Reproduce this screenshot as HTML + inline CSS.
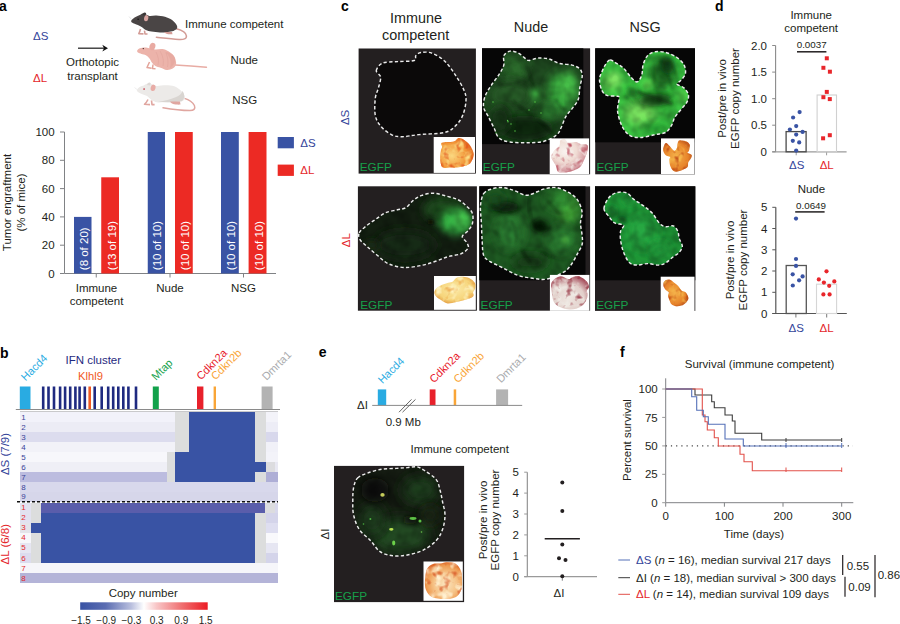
<!DOCTYPE html>
<html><head><meta charset="utf-8"><style>
html,body{margin:0;padding:0;background:#fff;}
svg{display:block;font-family:"Liberation Sans", sans-serif;}
</style></head><body>
<svg width="900" height="624" viewBox="0 0 900 624">
<rect width="900" height="624" fill="#fff"/>
<text x="-1" y="10.5" font-size="14" fill="#000" text-anchor="start" font-weight="bold" >a</text>
<text x="33" y="40" font-size="11.5" fill="#33449a" text-anchor="start" font-weight="normal" >ΔS</text>
<text x="33" y="82" font-size="11.5" fill="#e4262b" text-anchor="start" font-weight="normal" >ΔL</text>
<line x1="78" y1="48.2" x2="105" y2="48.2" stroke="#2a2a2a" stroke-width="1.3"/>
<path d="M102.3,44.8 L108,48.2 L102.3,51.5 L104,48.2 Z" fill="#111"/>
<text x="92.5" y="66.3" font-size="11.5" fill="#231f20" text-anchor="middle" font-weight="normal" >Orthotopic</text>
<text x="92.5" y="79.5" font-size="11.5" fill="#231f20" text-anchor="middle" font-weight="normal" >transplant</text>
<text x="185" y="28" font-size="11.5" fill="#231f20" text-anchor="start" font-weight="normal" >Immune competent</text>
<text x="230.5" y="63.5" font-size="11.5" fill="#231f20" text-anchor="start" font-weight="normal" >Nude</text>
<text x="232.3" y="104" font-size="11.5" fill="#231f20" text-anchor="start" font-weight="normal" >NSG</text>
<line x1="64.5" y1="132.0" x2="64.5" y2="273.5" stroke="#808285" stroke-width="1"/>
<line x1="64.5" y1="273.5" x2="276" y2="273.5" stroke="#808285" stroke-width="1"/>
<line x1="60" y1="273.5" x2="64.5" y2="273.5" stroke="#808285" stroke-width="1"/>
<text x="54.6" y="277.6" font-size="11.5" fill="#231f20" text-anchor="end" font-weight="normal" >0</text>
<line x1="60" y1="245.2" x2="64.5" y2="245.2" stroke="#808285" stroke-width="1"/>
<text x="54.6" y="249.29999999999998" font-size="11.5" fill="#231f20" text-anchor="end" font-weight="normal" >20</text>
<line x1="60" y1="216.9" x2="64.5" y2="216.9" stroke="#808285" stroke-width="1"/>
<text x="54.6" y="221.0" font-size="11.5" fill="#231f20" text-anchor="end" font-weight="normal" >40</text>
<line x1="60" y1="188.6" x2="64.5" y2="188.6" stroke="#808285" stroke-width="1"/>
<text x="54.6" y="192.7" font-size="11.5" fill="#231f20" text-anchor="end" font-weight="normal" >60</text>
<line x1="60" y1="160.3" x2="64.5" y2="160.3" stroke="#808285" stroke-width="1"/>
<text x="54.6" y="164.4" font-size="11.5" fill="#231f20" text-anchor="end" font-weight="normal" >80</text>
<line x1="60" y1="132.0" x2="64.5" y2="132.0" stroke="#808285" stroke-width="1"/>
<text x="54.6" y="136.1" font-size="11.5" fill="#231f20" text-anchor="end" font-weight="normal" >100</text>
<line x1="96.25" y1="273.5" x2="96.25" y2="277.5" stroke="#808285" stroke-width="1"/>
<line x1="170" y1="273.5" x2="170" y2="277.5" stroke="#808285" stroke-width="1"/>
<line x1="243.5" y1="273.5" x2="243.5" y2="277.5" stroke="#808285" stroke-width="1"/>
<rect x="74" y="216.9" width="17.50" height="56.6" fill="#3953a4"/>
<text transform="translate(87.85,270.2) rotate(-90)" font-size="11.5" fill="#fff" text-anchor="start" >(8 of 20)</text>
<rect x="101.25" y="177.3" width="17.75" height="96.2" fill="#ec2a24"/>
<text transform="translate(115.625,270.2) rotate(-90)" font-size="11.5" fill="#fff" text-anchor="start" >(13 of 19)</text>
<rect x="147.75" y="132.0" width="17.25" height="141.5" fill="#3953a4"/>
<text transform="translate(161.475,270.2) rotate(-90)" font-size="11.5" fill="#fff" text-anchor="start" >(10 of 10)</text>
<rect x="175" y="132.0" width="17.75" height="141.5" fill="#ec2a24"/>
<text transform="translate(189.375,270.2) rotate(-90)" font-size="11.5" fill="#fff" text-anchor="start" >(10 of 10)</text>
<rect x="221" y="132.0" width="17.80" height="141.5" fill="#3953a4"/>
<text transform="translate(235.0,270.2) rotate(-90)" font-size="11.5" fill="#fff" text-anchor="start" >(10 of 10)</text>
<rect x="248.6" y="132.0" width="17.90" height="141.5" fill="#ec2a24"/>
<text transform="translate(263.05,270.2) rotate(-90)" font-size="11.5" fill="#fff" text-anchor="start" >(10 of 10)</text>
<rect x="277.7" y="137" width="16.2" height="11.3" fill="#3953a4"/>
<rect x="277.7" y="164.6" width="16.2" height="11.3" fill="#ec2a24"/>
<text x="300.3" y="146.6" font-size="11.5" fill="#33449a" text-anchor="start" font-weight="normal" >ΔS</text>
<text x="300.3" y="174" font-size="11.5" fill="#e4262b" text-anchor="start" font-weight="normal" >ΔL</text>
<text x="96.5" y="292.4" font-size="11.5" fill="#231f20" text-anchor="middle" font-weight="normal" >Immune</text>
<text x="96.5" y="305.4" font-size="11.5" fill="#231f20" text-anchor="middle" font-weight="normal" >competent</text>
<text x="170" y="292.4" font-size="11.5" fill="#231f20" text-anchor="middle" font-weight="normal" >Nude</text>
<text x="243.5" y="292.4" font-size="11.5" fill="#231f20" text-anchor="middle" font-weight="normal" >NSG</text>
<text transform="translate(11.2,202.5) rotate(-90)" font-size="11.5" fill="#231f20" text-anchor="middle" >Tumor engraftment</text>
<text transform="translate(24.6,202.5) rotate(-90)" font-size="11.5" fill="#231f20" text-anchor="middle" >(% of mice)</text>
<text x="0" y="357.5" font-size="14" fill="#000" text-anchor="start" font-weight="bold" >b</text>
<text transform="translate(25.6,381.5) rotate(-45)" font-size="11" fill="#29abe2">Hacd4</text>
<text x="93.3" y="364.3" font-size="11.5" fill="#1f2a80" text-anchor="middle" font-weight="normal" >IFN cluster</text>
<text x="90.5" y="380.3" font-size="11.2" fill="#f15a24" text-anchor="middle" font-weight="normal" >Klhl9</text>
<text transform="translate(156,381) rotate(-45)" font-size="11" fill="#12a14b">Mtap</text>
<text transform="translate(201,380.5) rotate(-45)" font-size="11" fill="#e8212b">Cdkn2a</text>
<text transform="translate(215.5,380.5) rotate(-45)" font-size="11" fill="#f9a537">Cdkn2b</text>
<text transform="translate(266.5,381) rotate(-45)" font-size="11" fill="#a9abae">Dmrta1</text>
<rect x="19.8" y="386.5" width="10.7" height="22.5" fill="#29abe2"/>
<rect x="41.9" y="386.5" width="2.6" height="22.5" fill="#1f2a80"/>
<rect x="47.2" y="386.5" width="2.6" height="22.5" fill="#1f2a80"/>
<rect x="52.7" y="386.5" width="2.6" height="22.5" fill="#1f2a80"/>
<rect x="58.8" y="386.5" width="2.6" height="22.5" fill="#1f2a80"/>
<rect x="63.8" y="386.5" width="2.6" height="22.5" fill="#1f2a80"/>
<rect x="68.9" y="386.5" width="2.6" height="22.5" fill="#1f2a80"/>
<rect x="74.1" y="386.5" width="2.6" height="22.5" fill="#1f2a80"/>
<rect x="78.3" y="386.5" width="2.6" height="22.5" fill="#1f2a80"/>
<rect x="83.5" y="386.5" width="2.6" height="22.5" fill="#1f2a80"/>
<rect x="88.4" y="386.5" width="2.6" height="22.5" fill="#f15a24"/>
<rect x="93.4" y="386.5" width="2.6" height="22.5" fill="#1f2a80"/>
<rect x="100.4" y="386.5" width="2.6" height="22.5" fill="#1f2a80"/>
<rect x="106.9" y="386.5" width="2.6" height="22.5" fill="#1f2a80"/>
<rect x="111.9" y="386.5" width="2.6" height="22.5" fill="#1f2a80"/>
<rect x="117.0" y="386.5" width="2.6" height="22.5" fill="#1f2a80"/>
<rect x="122.0" y="386.5" width="2.6" height="22.5" fill="#1f2a80"/>
<rect x="127.1" y="386.5" width="2.6" height="22.5" fill="#1f2a80"/>
<rect x="134.7" y="386.5" width="2.6" height="22.5" fill="#1f2a80"/>
<rect x="152.8" y="386.5" width="6" height="22.5" fill="#12a14b"/>
<rect x="197" y="386.5" width="6.4" height="22.5" fill="#e8212b"/>
<rect x="213.6" y="386.5" width="2.4" height="22.5" fill="#f9a537"/>
<rect x="261.6" y="386.5" width="11" height="22.5" fill="#b3b3b3"/>
<line x1="15.8" y1="409.5" x2="280" y2="409.5" stroke="#8a8a8a" stroke-width="1"/>
<rect x="20" y="411" width="258" height="1.6" fill="#c9c9cb"/>
<rect x="20" y="412.40" width="155.00" height="9.91" fill="#f2f2fa" shape-rendering="crispEdges"/>
<rect x="175" y="412.40" width="14.00" height="9.91" fill="#dcdddd" shape-rendering="crispEdges"/>
<rect x="189" y="412.40" width="65.50" height="9.91" fill="#3953a4" shape-rendering="crispEdges"/>
<rect x="254.5" y="412.40" width="11.10" height="9.91" fill="#dcdddd" shape-rendering="crispEdges"/>
<rect x="265.6" y="412.40" width="12.40" height="9.91" fill="#f3f3f9" shape-rendering="crispEdges"/>
<rect x="20" y="422.31" width="155.00" height="9.91" fill="#ececf5" shape-rendering="crispEdges"/>
<rect x="175" y="422.31" width="14.00" height="9.91" fill="#dcdddd" shape-rendering="crispEdges"/>
<rect x="189" y="422.31" width="65.50" height="9.91" fill="#3953a4" shape-rendering="crispEdges"/>
<rect x="254.5" y="422.31" width="11.10" height="9.91" fill="#dcdddd" shape-rendering="crispEdges"/>
<rect x="265.6" y="422.31" width="12.40" height="9.91" fill="#ededf6" shape-rendering="crispEdges"/>
<rect x="20" y="432.22" width="155.00" height="9.91" fill="#dcdcee" shape-rendering="crispEdges"/>
<rect x="175" y="432.22" width="14.00" height="9.91" fill="#dcdddd" shape-rendering="crispEdges"/>
<rect x="189" y="432.22" width="65.50" height="9.91" fill="#3953a4" shape-rendering="crispEdges"/>
<rect x="254.5" y="432.22" width="11.10" height="9.91" fill="#dcdddd" shape-rendering="crispEdges"/>
<rect x="265.6" y="432.22" width="12.40" height="9.91" fill="#d8d8ec" shape-rendering="crispEdges"/>
<rect x="20" y="442.13" width="155.00" height="9.91" fill="#f2f2f8" shape-rendering="crispEdges"/>
<rect x="175" y="442.13" width="14.00" height="9.91" fill="#dcdddd" shape-rendering="crispEdges"/>
<rect x="189" y="442.13" width="65.50" height="9.91" fill="#3953a4" shape-rendering="crispEdges"/>
<rect x="254.5" y="442.13" width="11.10" height="9.91" fill="#dcdddd" shape-rendering="crispEdges"/>
<rect x="265.6" y="442.13" width="12.40" height="9.91" fill="#f1f1f8" shape-rendering="crispEdges"/>
<rect x="20" y="452.04" width="146.80" height="9.91" fill="#f7f7fb" shape-rendering="crispEdges"/>
<rect x="166.8" y="452.04" width="8.20" height="9.91" fill="#dcdddd" shape-rendering="crispEdges"/>
<rect x="175" y="452.04" width="79.50" height="9.91" fill="#3953a4" shape-rendering="crispEdges"/>
<rect x="254.5" y="452.04" width="11.10" height="9.91" fill="#dcdddd" shape-rendering="crispEdges"/>
<rect x="265.6" y="452.04" width="12.40" height="9.91" fill="#f3f3f9" shape-rendering="crispEdges"/>
<rect x="20" y="461.95" width="146.80" height="9.91" fill="#efeff6" shape-rendering="crispEdges"/>
<rect x="166.8" y="461.95" width="8.20" height="9.91" fill="#dcdddd" shape-rendering="crispEdges"/>
<rect x="175" y="461.95" width="90.60" height="9.91" fill="#3953a4" shape-rendering="crispEdges"/>
<rect x="265.6" y="461.95" width="9.40" height="9.91" fill="#dcdcdf" shape-rendering="crispEdges"/>
<rect x="275" y="461.95" width="3.00" height="9.91" fill="#e8e8f2" shape-rendering="crispEdges"/>
<rect x="20" y="471.86" width="146.80" height="9.91" fill="#bcbcdf" shape-rendering="crispEdges"/>
<rect x="166.8" y="471.86" width="8.20" height="9.91" fill="#dcdddd" shape-rendering="crispEdges"/>
<rect x="175" y="471.86" width="79.50" height="9.91" fill="#3953a4" shape-rendering="crispEdges"/>
<rect x="254.5" y="471.86" width="11.10" height="9.91" fill="#dcdddd" shape-rendering="crispEdges"/>
<rect x="265.6" y="471.86" width="12.40" height="9.91" fill="#aeaed6" shape-rendering="crispEdges"/>
<rect x="20" y="481.77" width="258.00" height="9.91" fill="#d8d8ec" shape-rendering="crispEdges"/>
<rect x="20" y="491.68" width="258.00" height="9.91" fill="#d6d6ea" shape-rendering="crispEdges"/>
<line x1="17" y1="501.8" x2="278" y2="501.8" stroke="#111" stroke-width="1.5" stroke-dasharray="3,2"/>
<rect x="20" y="502.50" width="11.00" height="10.04" fill="#e2e2f0" shape-rendering="crispEdges"/>
<rect x="31" y="502.50" width="10.00" height="10.04" fill="#dcdddd" shape-rendering="crispEdges"/>
<rect x="41" y="502.50" width="224.30" height="10.04" fill="#5a5dab" shape-rendering="crispEdges"/>
<rect x="265.3" y="502.50" width="9.70" height="10.04" fill="#dcdcdf" shape-rendering="crispEdges"/>
<rect x="275" y="502.50" width="3.00" height="10.04" fill="#d8d8ec" shape-rendering="crispEdges"/>
<rect x="20" y="512.54" width="11.00" height="10.04" fill="#e2e2f0" shape-rendering="crispEdges"/>
<rect x="31" y="512.54" width="10.00" height="10.04" fill="#dcdddd" shape-rendering="crispEdges"/>
<rect x="41" y="512.54" width="213.90" height="10.04" fill="#3953a4" shape-rendering="crispEdges"/>
<rect x="254.9" y="512.54" width="10.70" height="10.04" fill="#dcdddd" shape-rendering="crispEdges"/>
<rect x="265.6" y="512.54" width="12.40" height="10.04" fill="#d4d4ea" shape-rendering="crispEdges"/>
<rect x="20" y="522.58" width="11.00" height="10.04" fill="#e4e4ea" shape-rendering="crispEdges"/>
<rect x="31" y="522.58" width="223.90" height="10.04" fill="#3953a4" shape-rendering="crispEdges"/>
<rect x="254.9" y="522.58" width="10.70" height="10.04" fill="#dcdddd" shape-rendering="crispEdges"/>
<rect x="265.6" y="522.58" width="12.40" height="10.04" fill="#dedef0" shape-rendering="crispEdges"/>
<rect x="20" y="532.62" width="11.00" height="10.04" fill="#f7f7fb" shape-rendering="crispEdges"/>
<rect x="31" y="532.62" width="10.00" height="10.04" fill="#dcdddd" shape-rendering="crispEdges"/>
<rect x="41" y="532.62" width="213.90" height="10.04" fill="#3953a4" shape-rendering="crispEdges"/>
<rect x="254.9" y="532.62" width="10.70" height="10.04" fill="#dcdddd" shape-rendering="crispEdges"/>
<rect x="265.6" y="532.62" width="12.40" height="10.04" fill="#f9f9fc" shape-rendering="crispEdges"/>
<rect x="20" y="542.66" width="11.00" height="10.04" fill="#e6e6f2" shape-rendering="crispEdges"/>
<rect x="31" y="542.66" width="10.00" height="10.04" fill="#dcdddd" shape-rendering="crispEdges"/>
<rect x="41" y="542.66" width="213.90" height="10.04" fill="#3953a4" shape-rendering="crispEdges"/>
<rect x="254.9" y="542.66" width="10.70" height="10.04" fill="#dcdddd" shape-rendering="crispEdges"/>
<rect x="265.6" y="542.66" width="12.40" height="10.04" fill="#e6e6f2" shape-rendering="crispEdges"/>
<rect x="20" y="552.70" width="11.00" height="10.04" fill="#dcdcee" shape-rendering="crispEdges"/>
<rect x="31" y="552.70" width="10.00" height="10.04" fill="#dcdddd" shape-rendering="crispEdges"/>
<rect x="41" y="552.70" width="213.90" height="10.04" fill="#3953a4" shape-rendering="crispEdges"/>
<rect x="254.9" y="552.70" width="10.70" height="10.04" fill="#dcdddd" shape-rendering="crispEdges"/>
<rect x="265.6" y="552.70" width="12.40" height="10.04" fill="#d4d4ea" shape-rendering="crispEdges"/>
<rect x="20" y="562.74" width="258.00" height="10.04" fill="#f6f6fa" shape-rendering="crispEdges"/>
<rect x="20" y="572.78" width="258.00" height="10.04" fill="#b4b4d8" shape-rendering="crispEdges"/>
<text x="21.2" y="420.2" font-size="8" fill="#3a4298" text-anchor="start" font-weight="normal" >1</text>
<text x="21.2" y="430.11" font-size="8" fill="#3a4298" text-anchor="start" font-weight="normal" >2</text>
<text x="21.2" y="440.02" font-size="8" fill="#3a4298" text-anchor="start" font-weight="normal" >3</text>
<text x="21.2" y="449.93" font-size="8" fill="#3a4298" text-anchor="start" font-weight="normal" >4</text>
<text x="21.2" y="459.84" font-size="8" fill="#3a4298" text-anchor="start" font-weight="normal" >5</text>
<text x="21.2" y="469.75" font-size="8" fill="#3a4298" text-anchor="start" font-weight="normal" >6</text>
<text x="21.2" y="479.65999999999997" font-size="8" fill="#3a4298" text-anchor="start" font-weight="normal" >7</text>
<text x="21.2" y="489.57" font-size="8" fill="#3a4298" text-anchor="start" font-weight="normal" >8</text>
<text x="21.2" y="499.47999999999996" font-size="8" fill="#3a4298" text-anchor="start" font-weight="normal" >9</text>
<text x="21.2" y="510.3" font-size="8" fill="#e4262b" text-anchor="start" font-weight="normal" >1</text>
<text x="21.2" y="520.3399999999999" font-size="8" fill="#e4262b" text-anchor="start" font-weight="normal" >2</text>
<text x="21.2" y="530.38" font-size="8" fill="#e4262b" text-anchor="start" font-weight="normal" >3</text>
<text x="21.2" y="540.42" font-size="8" fill="#e4262b" text-anchor="start" font-weight="normal" >4</text>
<text x="21.2" y="550.4599999999999" font-size="8" fill="#e4262b" text-anchor="start" font-weight="normal" >5</text>
<text x="21.2" y="560.5" font-size="8" fill="#e4262b" text-anchor="start" font-weight="normal" >6</text>
<text x="21.2" y="570.54" font-size="8" fill="#e4262b" text-anchor="start" font-weight="normal" >7</text>
<text x="21.2" y="580.5799999999999" font-size="8" fill="#e4262b" text-anchor="start" font-weight="normal" >8</text>
<text transform="translate(9.2,454) rotate(-90)" font-size="11.5" fill="#33449a" text-anchor="middle" >ΔS (7/9)</text>
<text transform="translate(9.3,544.2) rotate(-90)" font-size="11.5" fill="#e4262b" text-anchor="middle" >ΔL (6/8)</text>
<text x="143.2" y="596.8" font-size="11.5" fill="#231f20" text-anchor="middle" font-weight="normal" >Copy number</text>
<defs><linearGradient id="cb" x1="0" x2="1" y1="0" y2="0"><stop offset="0" stop-color="#3953a4"/><stop offset="0.2" stop-color="#5b6db2"/><stop offset="0.4" stop-color="#b9bfde"/><stop offset="0.5" stop-color="#ffffff"/><stop offset="0.6" stop-color="#f8c5c6"/><stop offset="0.8" stop-color="#ef6e6f"/><stop offset="1" stop-color="#ec1c24"/></linearGradient></defs>
<rect x="80.2" y="602.3" width="127.5" height="7.5" fill="url(#cb)"/>
<text x="81" y="624.2" font-size="10" fill="#231f20" text-anchor="middle" font-weight="normal" >−1.5</text>
<text x="106.2" y="624.2" font-size="10" fill="#231f20" text-anchor="middle" font-weight="normal" >−0.9</text>
<text x="131.4" y="624.2" font-size="10" fill="#231f20" text-anchor="middle" font-weight="normal" >−0.3</text>
<text x="156.6" y="624.2" font-size="10" fill="#231f20" text-anchor="middle" font-weight="normal" >0.3</text>
<text x="181.3" y="624.2" font-size="10" fill="#231f20" text-anchor="middle" font-weight="normal" >0.9</text>
<text x="205.7" y="624.2" font-size="10" fill="#231f20" text-anchor="middle" font-weight="normal" >1.5</text>
<text x="341" y="10.5" font-size="14" fill="#000" text-anchor="start" font-weight="bold" >c</text>
<text x="416" y="22.8" font-size="14.4" fill="#231f20" text-anchor="middle" font-weight="normal" >Immune</text>
<text x="415.6" y="40.3" font-size="14.4" fill="#231f20" text-anchor="middle" font-weight="normal" >competent</text>
<text x="531" y="32" font-size="14.4" fill="#231f20" text-anchor="middle" font-weight="normal" >Nude</text>
<text x="645" y="32" font-size="14.4" fill="#231f20" text-anchor="middle" font-weight="normal" >NSG</text>
<text transform="translate(349.3,117.4) rotate(-90)" font-size="11.5" fill="#33449a" text-anchor="middle" >ΔS</text>
<text transform="translate(350,240.2) rotate(-90)" font-size="11.5" fill="#e4262b" text-anchor="middle" >ΔL</text>
<defs>
<filter id="mottle" x="0" y="0" width="1" height="1"><feTurbulence type="fractalNoise" baseFrequency="0.09" numOctaves="2" seed="3"/>
<feColorMatrix type="matrix" values="0 0 0 0 0  0 0 0 0 0  0 0 0 0 0  0 0 0 -1.6 1.05"/><feComposite in2="SourceGraphic" operator="in"/></filter>
<filter id="b1" x="-100%" y="-100%" width="300%" height="300%"><feGaussianBlur stdDeviation="0.5"/></filter><filter id="b2" x="-100%" y="-100%" width="300%" height="300%"><feGaussianBlur stdDeviation="1.0"/></filter><filter id="b3" x="-100%" y="-100%" width="300%" height="300%"><feGaussianBlur stdDeviation="1.5"/></filter><filter id="b4" x="-100%" y="-100%" width="300%" height="300%"><feGaussianBlur stdDeviation="2.0"/></filter><filter id="b5" x="-100%" y="-100%" width="300%" height="300%"><feGaussianBlur stdDeviation="2.5"/></filter><filter id="b6" x="-100%" y="-100%" width="300%" height="300%"><feGaussianBlur stdDeviation="3.0"/></filter><filter id="b7" x="-100%" y="-100%" width="300%" height="300%"><feGaussianBlur stdDeviation="3.5"/></filter><filter id="b8" x="-100%" y="-100%" width="300%" height="300%"><feGaussianBlur stdDeviation="4.0"/></filter><filter id="b9" x="-100%" y="-100%" width="300%" height="300%"><feGaussianBlur stdDeviation="4.5"/></filter><filter id="b10" x="-100%" y="-100%" width="300%" height="300%"><feGaussianBlur stdDeviation="5.0"/></filter><filter id="b11" x="-100%" y="-100%" width="300%" height="300%"><feGaussianBlur stdDeviation="5.5"/></filter><filter id="b12" x="-100%" y="-100%" width="300%" height="300%"><feGaussianBlur stdDeviation="6.0"/></filter><filter id="b13" x="-100%" y="-100%" width="300%" height="300%"><feGaussianBlur stdDeviation="6.5"/></filter><filter id="b14" x="-100%" y="-100%" width="300%" height="300%"><feGaussianBlur stdDeviation="7.0"/></filter>
<filter id="blur2" x="-100%" y="-100%" width="300%" height="300%"><feGaussianBlur stdDeviation="2"/></filter>
<filter id="blur4" x="-100%" y="-100%" width="300%" height="300%"><feGaussianBlur stdDeviation="4"/></filter>
<filter id="blur6" x="-100%" y="-100%" width="300%" height="300%"><feGaussianBlur stdDeviation="6"/></filter>
<radialGradient id="gOr" cx="0.35" cy="0.6" r="0.7"><stop offset="0" stop-color="#fbd880"/><stop offset="0.6" stop-color="#f29a3c"/><stop offset="1" stop-color="#e0601c"/></radialGradient>
<radialGradient id="gPk" cx="0.35" cy="0.35" r="0.75"><stop offset="0" stop-color="#f8f0ec"/><stop offset="0.45" stop-color="#f0dcd4"/><stop offset="0.8" stop-color="#d49aa0"/><stop offset="1" stop-color="#a83848"/></radialGradient>
<radialGradient id="gPk2" cx="0.45" cy="0.65" r="0.7"><stop offset="0" stop-color="#efe8e2"/><stop offset="0.6" stop-color="#e2cfca"/><stop offset="1" stop-color="#a04050"/></radialGradient>
<radialGradient id="gYe" cx="0.5" cy="0.45" r="0.6"><stop offset="0" stop-color="#fbe9a6"/><stop offset="0.7" stop-color="#f6d47a"/><stop offset="1" stop-color="#e39a3c"/></radialGradient>
<radialGradient id="gOr2" cx="0.45" cy="0.5" r="0.6"><stop offset="0" stop-color="#f4b24a"/><stop offset="0.7" stop-color="#e7832a"/><stop offset="1" stop-color="#b8501a"/></radialGradient>
<radialGradient id="gPe" cx="0.55" cy="0.6" r="0.6"><stop offset="0" stop-color="#fbe6c0"/><stop offset="0.5" stop-color="#f6c58a"/><stop offset="0.85" stop-color="#ee9a50"/><stop offset="1" stop-color="#e06a2a"/></radialGradient>
</defs>
<rect x="358.6" y="48.5" width="117.3" height="125.1" fill="#231f20"/>
<path d="M376.3,70.6 C376.6,68.3 379.1,64.6 382.7,63.1 C386.3,61.6 392.4,62.0 397.7,61.6 C402.9,61.2 411.2,61.5 414.2,60.5 C417.2,59.5 414.7,57.0 415.8,55.7 C416.9,54.4 418.3,52.9 421.0,52.5 C423.7,52.1 427.9,51.7 431.8,53.1 C435.7,54.5 440.7,57.4 444.6,61.0 C448.5,64.6 452.1,70.1 455.3,74.9 C458.5,79.7 462.0,85.5 463.8,89.8 C465.6,94.1 466.2,96.2 466.0,100.5 C465.8,104.8 464.5,111.2 462.7,115.4 C460.9,119.7 458.3,123.2 455.3,126.0 C452.3,128.8 450.7,131.1 444.6,132.5 C438.6,133.9 426.1,133.9 419.0,134.6 C411.9,135.3 406.6,136.7 402.0,136.7 C397.4,136.7 394.9,136.4 391.3,134.6 C387.7,132.8 383.3,129.2 380.6,126.0 C377.9,122.8 376.2,120.0 375.3,115.4 C374.4,110.8 374.8,102.9 375.3,98.3 C375.8,93.7 377.6,91.2 378.5,87.7 C379.4,84.2 381.0,79.8 380.6,77.0 C380.2,74.2 376.0,72.9 376.3,70.6Z" fill="#0b0909"/>
<path d="M376.3,70.6 C376.6,68.3 379.1,64.6 382.7,63.1 C386.3,61.6 392.4,62.0 397.7,61.6 C402.9,61.2 411.2,61.5 414.2,60.5 C417.2,59.5 414.7,57.0 415.8,55.7 C416.9,54.4 418.3,52.9 421.0,52.5 C423.7,52.1 427.9,51.7 431.8,53.1 C435.7,54.5 440.7,57.4 444.6,61.0 C448.5,64.6 452.1,70.1 455.3,74.9 C458.5,79.7 462.0,85.5 463.8,89.8 C465.6,94.1 466.2,96.2 466.0,100.5 C465.8,104.8 464.5,111.2 462.7,115.4 C460.9,119.7 458.3,123.2 455.3,126.0 C452.3,128.8 450.7,131.1 444.6,132.5 C438.6,133.9 426.1,133.9 419.0,134.6 C411.9,135.3 406.6,136.7 402.0,136.7 C397.4,136.7 394.9,136.4 391.3,134.6 C387.7,132.8 383.3,129.2 380.6,126.0 C377.9,122.8 376.2,120.0 375.3,115.4 C374.4,110.8 374.8,102.9 375.3,98.3 C375.8,93.7 377.6,91.2 378.5,87.7 C379.4,84.2 381.0,79.8 380.6,77.0 C380.2,74.2 376.0,72.9 376.3,70.6Z" fill="none" stroke="#ececec" stroke-width="1.45" stroke-dasharray="3.3,2.3"/>
<rect x="433.7" y="137" width="41.30000000000001" height="35.900000000000006" fill="#fff"/>
<filter id="tx1" x="0" y="0" width="1" height="1" color-interpolation-filters="sRGB">
<feTurbulence type="fractalNoise" baseFrequency="0.14" numOctaves="2" seed="4" result="n1"/>
<feColorMatrix in="n1" type="matrix" values="0 0 0 0 0.988 0 0 0 0 0.898 0 0 0 0 0.557 3.0 0 0 0 -1.45" result="c1"/>
<feComposite in="c1" in2="SourceAlpha" operator="in" result="c1m"/>
<feTurbulence type="fractalNoise" baseFrequency="0.16" numOctaves="2" seed="5" result="n2"/>
<feColorMatrix in="n2" type="matrix" values="0 0 0 0 0.886 0 0 0 0 0.314 0 0 0 0 0.102 0 3.0 0 0 -1.6" result="c2"/>
<feComposite in="c2" in2="SourceAlpha" operator="in" result="c2m"/>
<feMerge><feMergeNode in="SourceGraphic"/><feMergeNode in="c1m"/><feMergeNode in="c2m"/></feMerge></filter>
<path d="M441.1,143.4 C441.7,142.6 443.6,142.4 445.5,142.1 C447.4,141.8 450.5,142.0 452.2,141.7 C453.9,141.4 454.6,141.0 455.6,140.4 C456.6,139.8 457.2,138.3 458.3,138.0 C459.4,137.7 460.9,138.0 462.3,138.7 C463.8,139.4 465.6,140.9 467.0,142.1 C468.4,143.3 469.4,144.5 470.4,146.1 C471.4,147.7 472.6,149.9 473.1,151.5 C473.7,153.1 473.9,153.9 473.7,155.5 C473.5,157.1 472.5,159.4 471.7,160.9 C470.9,162.4 470.4,163.4 469.0,164.3 C467.6,165.2 465.6,165.8 463.6,166.3 C461.6,166.9 459.1,167.4 456.9,167.6 C454.7,167.8 452.5,167.6 450.2,167.6 C447.9,167.6 444.4,168.3 442.8,167.6 C441.2,166.9 441.2,165.3 440.8,163.6 C440.4,161.9 440.1,159.7 440.1,157.6 C440.1,155.5 440.5,152.6 440.8,150.8 C441.1,149.0 442.1,148.0 442.1,146.8 C442.2,145.6 440.5,144.2 441.1,143.4Z" fill="url(#gOr)" filter="url(#tx1)"/>
<text x="359.7" y="170.6" font-size="11.8" fill="#17a04a" text-anchor="start" font-weight="normal" >EGFP</text>
<rect x="482" y="48.3" width="108.1" height="126" fill="#231f20"/>
<rect x="482" y="48.3" width="101.3" height="95.8" fill="#060606"/>
<clipPath id="cp2"><path d="M503.8,55.8 C504.8,53.5 507.7,51.6 510.0,51.1 C512.3,50.6 515.4,51.7 517.7,52.7 C520.0,53.7 522.2,56.0 524.0,57.3 C525.8,58.6 526.3,60.3 528.6,60.4 C530.9,60.5 534.6,58.4 538.0,58.1 C541.4,57.9 545.2,58.0 548.8,58.9 C552.4,59.8 555.8,62.5 559.7,63.5 C563.6,64.5 568.7,64.2 572.1,65.1 C575.5,66.0 578.2,67.2 579.9,69.0 C581.6,70.8 582.2,73.0 582.2,76.0 C582.2,79.0 580.5,83.0 579.9,86.9 C579.2,90.8 579.6,95.7 578.3,99.3 C577.0,102.9 574.2,105.8 572.1,108.6 C570.0,111.4 567.7,113.3 565.9,116.4 C564.1,119.5 562.8,124.2 561.3,127.3 C559.8,130.4 559.5,132.7 556.6,135.0 C553.8,137.3 548.9,139.9 544.2,141.2 C539.5,142.5 534.3,142.7 528.6,142.8 C522.9,142.9 514.9,142.8 510.0,142.0 C505.1,141.2 501.7,140.3 499.1,138.1 C496.5,135.9 496.2,132.4 494.4,128.8 C492.6,125.2 490.0,120.0 488.2,116.4 C486.4,112.8 484.1,110.5 483.6,107.1 C483.1,103.7 483.8,99.8 485.1,96.2 C486.4,92.6 489.0,88.9 491.3,85.3 C493.6,81.7 497.0,77.8 499.1,74.4 C501.2,71.0 503.0,68.2 503.8,65.1 C504.6,62.0 502.8,58.1 503.8,55.8Z"/></clipPath>
<path d="M503.8,55.8 C504.8,53.5 507.7,51.6 510.0,51.1 C512.3,50.6 515.4,51.7 517.7,52.7 C520.0,53.7 522.2,56.0 524.0,57.3 C525.8,58.6 526.3,60.3 528.6,60.4 C530.9,60.5 534.6,58.4 538.0,58.1 C541.4,57.9 545.2,58.0 548.8,58.9 C552.4,59.8 555.8,62.5 559.7,63.5 C563.6,64.5 568.7,64.2 572.1,65.1 C575.5,66.0 578.2,67.2 579.9,69.0 C581.6,70.8 582.2,73.0 582.2,76.0 C582.2,79.0 580.5,83.0 579.9,86.9 C579.2,90.8 579.6,95.7 578.3,99.3 C577.0,102.9 574.2,105.8 572.1,108.6 C570.0,111.4 567.7,113.3 565.9,116.4 C564.1,119.5 562.8,124.2 561.3,127.3 C559.8,130.4 559.5,132.7 556.6,135.0 C553.8,137.3 548.9,139.9 544.2,141.2 C539.5,142.5 534.3,142.7 528.6,142.8 C522.9,142.9 514.9,142.8 510.0,142.0 C505.1,141.2 501.7,140.3 499.1,138.1 C496.5,135.9 496.2,132.4 494.4,128.8 C492.6,125.2 490.0,120.0 488.2,116.4 C486.4,112.8 484.1,110.5 483.6,107.1 C483.1,103.7 483.8,99.8 485.1,96.2 C486.4,92.6 489.0,88.9 491.3,85.3 C493.6,81.7 497.0,77.8 499.1,74.4 C501.2,71.0 503.0,68.2 503.8,65.1 C504.6,62.0 502.8,58.1 503.8,55.8Z" fill="#1f4a20"/>
<g clip-path="url(#cp2)">
<ellipse cx="515" cy="68" rx="12" ry="12" fill="#2a6a2c" filter="url(#b8)"/>
<ellipse cx="510" cy="95" rx="22" ry="14" fill="#255a26" filter="url(#b10)"/>
<ellipse cx="562" cy="92" rx="15" ry="20" fill="#38a83c" filter="url(#b10)"/>
<ellipse cx="568" cy="85" rx="8" ry="12" fill="#46c04a" filter="url(#b8)"/>
<ellipse cx="536" cy="95" rx="5" ry="7" fill="#40b844" filter="url(#b6)"/>
<ellipse cx="525" cy="128" rx="28" ry="12" fill="#112610" filter="url(#b10)"/>
<ellipse cx="500" cy="120" rx="10" ry="14" fill="#163616" filter="url(#b8)"/>
<ellipse cx="548" cy="112" rx="10" ry="8" fill="#2a7a2e" filter="url(#b8)"/>
<path d="M527,66 Q531,76 533,87" fill="none" stroke="#061006" stroke-width="1.6" stroke-linecap="round" opacity="0.55" filter="url(#b3)"/>
<path d="M513,101 Q520,108 528,112" fill="none" stroke="#061006" stroke-width="2.2" stroke-linecap="round" opacity="0.55" filter="url(#b3)"/>
<path d="M538,120 Q545,126 552,133" fill="none" stroke="#061006" stroke-width="2.5" stroke-linecap="round" opacity="0.55" filter="url(#b3)"/>
<path d="M499,84 Q510,86 520,82" fill="none" stroke="#061006" stroke-width="1.3" stroke-linecap="round" opacity="0.55" filter="url(#b3)"/>
<path d="M556,100 Q560,108 566,110" fill="none" stroke="#061006" stroke-width="1.2" stroke-linecap="round" opacity="0.55" filter="url(#b3)"/>
<path d="M503.8,55.8 C504.8,53.5 507.7,51.6 510.0,51.1 C512.3,50.6 515.4,51.7 517.7,52.7 C520.0,53.7 522.2,56.0 524.0,57.3 C525.8,58.6 526.3,60.3 528.6,60.4 C530.9,60.5 534.6,58.4 538.0,58.1 C541.4,57.9 545.2,58.0 548.8,58.9 C552.4,59.8 555.8,62.5 559.7,63.5 C563.6,64.5 568.7,64.2 572.1,65.1 C575.5,66.0 578.2,67.2 579.9,69.0 C581.6,70.8 582.2,73.0 582.2,76.0 C582.2,79.0 580.5,83.0 579.9,86.9 C579.2,90.8 579.6,95.7 578.3,99.3 C577.0,102.9 574.2,105.8 572.1,108.6 C570.0,111.4 567.7,113.3 565.9,116.4 C564.1,119.5 562.8,124.2 561.3,127.3 C559.8,130.4 559.5,132.7 556.6,135.0 C553.8,137.3 548.9,139.9 544.2,141.2 C539.5,142.5 534.3,142.7 528.6,142.8 C522.9,142.9 514.9,142.8 510.0,142.0 C505.1,141.2 501.7,140.3 499.1,138.1 C496.5,135.9 496.2,132.4 494.4,128.8 C492.6,125.2 490.0,120.0 488.2,116.4 C486.4,112.8 484.1,110.5 483.6,107.1 C483.1,103.7 483.8,99.8 485.1,96.2 C486.4,92.6 489.0,88.9 491.3,85.3 C493.6,81.7 497.0,77.8 499.1,74.4 C501.2,71.0 503.0,68.2 503.8,65.1 C504.6,62.0 502.8,58.1 503.8,55.8Z" fill="#000" filter="url(#mottle)" opacity="0.35"/>
</g>
<g fill="#5ad04a"><circle cx="507.6" cy="120.5" r="0.7"/><circle cx="508" cy="121.7" r="0.7"/><circle cx="493" cy="102" r="0.7"/><circle cx="529" cy="110" r="0.7"/><circle cx="541" cy="113" r="0.7"/><circle cx="535" cy="102" r="0.7"/><circle cx="496" cy="133" r="0.7"/><circle cx="511" cy="124" r="0.7"/><circle cx="515" cy="131" r="0.7"/></g>
<path d="M503.8,55.8 C504.8,53.5 507.7,51.6 510.0,51.1 C512.3,50.6 515.4,51.7 517.7,52.7 C520.0,53.7 522.2,56.0 524.0,57.3 C525.8,58.6 526.3,60.3 528.6,60.4 C530.9,60.5 534.6,58.4 538.0,58.1 C541.4,57.9 545.2,58.0 548.8,58.9 C552.4,59.8 555.8,62.5 559.7,63.5 C563.6,64.5 568.7,64.2 572.1,65.1 C575.5,66.0 578.2,67.2 579.9,69.0 C581.6,70.8 582.2,73.0 582.2,76.0 C582.2,79.0 580.5,83.0 579.9,86.9 C579.2,90.8 579.6,95.7 578.3,99.3 C577.0,102.9 574.2,105.8 572.1,108.6 C570.0,111.4 567.7,113.3 565.9,116.4 C564.1,119.5 562.8,124.2 561.3,127.3 C559.8,130.4 559.5,132.7 556.6,135.0 C553.8,137.3 548.9,139.9 544.2,141.2 C539.5,142.5 534.3,142.7 528.6,142.8 C522.9,142.9 514.9,142.8 510.0,142.0 C505.1,141.2 501.7,140.3 499.1,138.1 C496.5,135.9 496.2,132.4 494.4,128.8 C492.6,125.2 490.0,120.0 488.2,116.4 C486.4,112.8 484.1,110.5 483.6,107.1 C483.1,103.7 483.8,99.8 485.1,96.2 C486.4,92.6 489.0,88.9 491.3,85.3 C493.6,81.7 497.0,77.8 499.1,74.4 C501.2,71.0 503.0,68.2 503.8,65.1 C504.6,62.0 502.8,58.1 503.8,55.8Z" fill="none" stroke="#ececec" stroke-width="1.45" stroke-dasharray="3.3,2.3"/>
<rect x="549.7" y="138.4" width="39.39999999999998" height="35.69999999999999" fill="#fff"/>
<filter id="tx2" x="0" y="0" width="1" height="1" color-interpolation-filters="sRGB">
<feTurbulence type="fractalNoise" baseFrequency="0.14" numOctaves="2" seed="7" result="n1"/>
<feColorMatrix in="n1" type="matrix" values="0 0 0 0 0.973 0 0 0 0 0.949 0 0 0 0 0.933 3.0 0 0 0 -1.45" result="c1"/>
<feComposite in="c1" in2="SourceAlpha" operator="in" result="c1m"/>
<feTurbulence type="fractalNoise" baseFrequency="0.15" numOctaves="2" seed="8" result="n2"/>
<feColorMatrix in="n2" type="matrix" values="0 0 0 0 0.690 0 0 0 0 0.204 0 0 0 0 0.282 0 3.0 0 0 -1.65" result="c2"/>
<feComposite in="c2" in2="SourceAlpha" operator="in" result="c2m"/>
<feMerge><feMergeNode in="SourceGraphic"/><feMergeNode in="c1m"/><feMergeNode in="c2m"/></feMerge></filter>
<path d="M560.1,140.7 C560.6,139.7 561.3,139.6 562.2,139.4 C563.1,139.2 564.6,139.1 565.5,139.7 C566.4,140.2 566.5,142.2 567.5,142.7 C568.5,143.1 570.1,142.5 571.6,142.4 C573.1,142.3 575.0,141.9 576.3,142.1 C577.6,142.3 578.4,143.5 579.6,143.8 C580.8,144.1 582.4,143.8 583.7,144.1 C585.1,144.4 587.1,144.3 587.7,145.4 C588.3,146.5 587.7,149.0 587.4,150.8 C587.1,152.6 586.4,154.3 585.7,156.2 C585.0,158.1 584.0,160.4 583.0,162.3 C582.0,164.2 581.1,166.3 579.6,167.6 C578.1,168.9 576.5,169.5 574.3,170.3 C572.1,171.1 568.9,172.2 566.2,172.4 C563.5,172.6 559.8,172.7 558.1,171.7 C556.4,170.7 557.1,168.3 556.1,166.3 C555.1,164.3 552.9,161.4 552.1,159.6 C551.3,157.8 551.0,157.1 551.4,155.5 C551.8,153.9 553.4,151.9 554.7,150.2 C556.1,148.5 558.6,147.0 559.5,145.4 C560.4,143.8 559.6,141.7 560.1,140.7Z" fill="url(#gPk)" filter="url(#tx2)"/>
<text x="482.8" y="170.8" font-size="11.8" fill="#17a04a" text-anchor="start" font-weight="normal" >EGFP</text>
<rect x="595.2" y="48.3" width="99.8" height="126" fill="#231f20"/>
<rect x="595.2" y="48.3" width="99.8" height="94" fill="#060606"/>
<clipPath id="cp3"><path d="M610.1,60.0 C611.9,59.8 613.9,61.7 616.1,63.1 C618.4,64.5 621.1,65.9 623.6,68.3 C626.1,70.7 628.8,75.1 631.1,77.4 C633.4,79.7 635.4,82.3 637.2,81.9 C639.0,81.5 640.7,78.0 641.7,75.1 C642.7,72.2 642.2,67.9 643.2,64.6 C644.2,61.3 645.7,57.6 647.7,55.5 C649.7,53.4 652.2,52.3 655.2,51.8 C658.2,51.3 662.3,51.6 665.8,52.5 C669.3,53.4 673.3,55.0 676.3,57.0 C679.3,59.0 682.4,61.8 683.9,64.6 C685.4,67.4 685.9,71.0 685.4,73.6 C684.9,76.2 682.2,78.7 680.8,80.4 C679.4,82.2 676.6,82.8 677.1,84.1 C677.6,85.3 682.0,86.1 683.9,87.9 C685.8,89.7 687.9,92.3 688.4,94.7 C688.9,97.1 688.2,99.7 686.9,102.2 C685.6,104.7 682.8,107.2 680.8,109.7 C678.8,112.2 676.3,114.8 674.8,117.3 C673.3,119.8 673.3,122.3 671.8,124.8 C670.3,127.3 668.6,130.7 665.8,132.3 C663.0,133.9 659.5,133.7 655.2,134.6 C650.9,135.5 644.5,137.5 640.2,137.6 C635.9,137.7 632.6,137.2 629.6,135.3 C626.6,133.4 624.1,130.3 622.1,126.3 C620.1,122.3 618.1,116.1 617.6,111.3 C617.1,106.5 619.4,100.2 619.1,97.7 C618.9,95.2 618.1,96.6 616.1,96.2 C614.1,95.8 609.4,96.4 607.0,95.4 C604.6,94.4 603.0,92.8 601.8,90.2 C600.5,87.6 599.5,82.6 599.5,79.6 C599.5,76.6 600.8,74.6 601.8,72.1 C602.8,69.6 604.1,66.6 605.5,64.6 C606.9,62.6 608.3,60.2 610.1,60.0Z"/></clipPath>
<path d="M610.1,60.0 C611.9,59.8 613.9,61.7 616.1,63.1 C618.4,64.5 621.1,65.9 623.6,68.3 C626.1,70.7 628.8,75.1 631.1,77.4 C633.4,79.7 635.4,82.3 637.2,81.9 C639.0,81.5 640.7,78.0 641.7,75.1 C642.7,72.2 642.2,67.9 643.2,64.6 C644.2,61.3 645.7,57.6 647.7,55.5 C649.7,53.4 652.2,52.3 655.2,51.8 C658.2,51.3 662.3,51.6 665.8,52.5 C669.3,53.4 673.3,55.0 676.3,57.0 C679.3,59.0 682.4,61.8 683.9,64.6 C685.4,67.4 685.9,71.0 685.4,73.6 C684.9,76.2 682.2,78.7 680.8,80.4 C679.4,82.2 676.6,82.8 677.1,84.1 C677.6,85.3 682.0,86.1 683.9,87.9 C685.8,89.7 687.9,92.3 688.4,94.7 C688.9,97.1 688.2,99.7 686.9,102.2 C685.6,104.7 682.8,107.2 680.8,109.7 C678.8,112.2 676.3,114.8 674.8,117.3 C673.3,119.8 673.3,122.3 671.8,124.8 C670.3,127.3 668.6,130.7 665.8,132.3 C663.0,133.9 659.5,133.7 655.2,134.6 C650.9,135.5 644.5,137.5 640.2,137.6 C635.9,137.7 632.6,137.2 629.6,135.3 C626.6,133.4 624.1,130.3 622.1,126.3 C620.1,122.3 618.1,116.1 617.6,111.3 C617.1,106.5 619.4,100.2 619.1,97.7 C618.9,95.2 618.1,96.6 616.1,96.2 C614.1,95.8 609.4,96.4 607.0,95.4 C604.6,94.4 603.0,92.8 601.8,90.2 C600.5,87.6 599.5,82.6 599.5,79.6 C599.5,76.6 600.8,74.6 601.8,72.1 C602.8,69.6 604.1,66.6 605.5,64.6 C606.9,62.6 608.3,60.2 610.1,60.0Z" fill="#3ac642"/>
<g clip-path="url(#cp3)">
<ellipse cx="612" cy="82" rx="9" ry="8" fill="#74e25c" filter="url(#b8)"/>
<ellipse cx="640" cy="113" rx="16" ry="12" fill="#7ce660" filter="url(#b10)"/>
<ellipse cx="615" cy="78" rx="5" ry="5" fill="#8ae868" filter="url(#b6)"/>
<ellipse cx="662" cy="72" rx="12" ry="16" fill="#1d6a22" filter="url(#b10)"/>
<ellipse cx="668" cy="66" rx="6" ry="8" fill="#0e3a12" filter="url(#b6)"/>
<ellipse cx="655" cy="100" rx="18" ry="6" fill="#0d3010" filter="url(#b8)"/>
<ellipse cx="647.7" cy="84.1" rx="5" ry="5" fill="#5ed850" filter="url(#b5)"/>
<ellipse cx="683" cy="96" rx="5" ry="7" fill="#52d04a" filter="url(#b6)"/>
<ellipse cx="633" cy="92" rx="6" ry="4" fill="#1a6a20" filter="url(#b6)"/>
<ellipse cx="655" cy="128" rx="14" ry="5" fill="#27a032" filter="url(#b6)"/>
<path d="M638,92 Q655,98 672,104" fill="none" stroke="#0a2a0c" stroke-width="3" stroke-linecap="round" opacity="0.55" filter="url(#b3)"/>
<path d="M660,60 Q668,72 672,88" fill="none" stroke="#0a2a0c" stroke-width="1.6" stroke-linecap="round" opacity="0.55" filter="url(#b3)"/>
<path d="M668,58 Q676,70 678,84" fill="none" stroke="#0a2a0c" stroke-width="1.2" stroke-linecap="round" opacity="0.55" filter="url(#b3)"/>
<path d="M624,96 Q630,100 634,104" fill="none" stroke="#0a2a0c" stroke-width="1.5" stroke-linecap="round" opacity="0.55" filter="url(#b3)"/>
<path d="M652,70 Q656,80 655,90" fill="none" stroke="#0a2a0c" stroke-width="1.2" stroke-linecap="round" opacity="0.55" filter="url(#b3)"/>
<path d="M610.1,60.0 C611.9,59.8 613.9,61.7 616.1,63.1 C618.4,64.5 621.1,65.9 623.6,68.3 C626.1,70.7 628.8,75.1 631.1,77.4 C633.4,79.7 635.4,82.3 637.2,81.9 C639.0,81.5 640.7,78.0 641.7,75.1 C642.7,72.2 642.2,67.9 643.2,64.6 C644.2,61.3 645.7,57.6 647.7,55.5 C649.7,53.4 652.2,52.3 655.2,51.8 C658.2,51.3 662.3,51.6 665.8,52.5 C669.3,53.4 673.3,55.0 676.3,57.0 C679.3,59.0 682.4,61.8 683.9,64.6 C685.4,67.4 685.9,71.0 685.4,73.6 C684.9,76.2 682.2,78.7 680.8,80.4 C679.4,82.2 676.6,82.8 677.1,84.1 C677.6,85.3 682.0,86.1 683.9,87.9 C685.8,89.7 687.9,92.3 688.4,94.7 C688.9,97.1 688.2,99.7 686.9,102.2 C685.6,104.7 682.8,107.2 680.8,109.7 C678.8,112.2 676.3,114.8 674.8,117.3 C673.3,119.8 673.3,122.3 671.8,124.8 C670.3,127.3 668.6,130.7 665.8,132.3 C663.0,133.9 659.5,133.7 655.2,134.6 C650.9,135.5 644.5,137.5 640.2,137.6 C635.9,137.7 632.6,137.2 629.6,135.3 C626.6,133.4 624.1,130.3 622.1,126.3 C620.1,122.3 618.1,116.1 617.6,111.3 C617.1,106.5 619.4,100.2 619.1,97.7 C618.9,95.2 618.1,96.6 616.1,96.2 C614.1,95.8 609.4,96.4 607.0,95.4 C604.6,94.4 603.0,92.8 601.8,90.2 C600.5,87.6 599.5,82.6 599.5,79.6 C599.5,76.6 600.8,74.6 601.8,72.1 C602.8,69.6 604.1,66.6 605.5,64.6 C606.9,62.6 608.3,60.2 610.1,60.0Z" fill="#000" filter="url(#mottle)" opacity="0.35"/>
</g>
<path d="M610.1,60.0 C611.9,59.8 613.9,61.7 616.1,63.1 C618.4,64.5 621.1,65.9 623.6,68.3 C626.1,70.7 628.8,75.1 631.1,77.4 C633.4,79.7 635.4,82.3 637.2,81.9 C639.0,81.5 640.7,78.0 641.7,75.1 C642.7,72.2 642.2,67.9 643.2,64.6 C644.2,61.3 645.7,57.6 647.7,55.5 C649.7,53.4 652.2,52.3 655.2,51.8 C658.2,51.3 662.3,51.6 665.8,52.5 C669.3,53.4 673.3,55.0 676.3,57.0 C679.3,59.0 682.4,61.8 683.9,64.6 C685.4,67.4 685.9,71.0 685.4,73.6 C684.9,76.2 682.2,78.7 680.8,80.4 C679.4,82.2 676.6,82.8 677.1,84.1 C677.6,85.3 682.0,86.1 683.9,87.9 C685.8,89.7 687.9,92.3 688.4,94.7 C688.9,97.1 688.2,99.7 686.9,102.2 C685.6,104.7 682.8,107.2 680.8,109.7 C678.8,112.2 676.3,114.8 674.8,117.3 C673.3,119.8 673.3,122.3 671.8,124.8 C670.3,127.3 668.6,130.7 665.8,132.3 C663.0,133.9 659.5,133.7 655.2,134.6 C650.9,135.5 644.5,137.5 640.2,137.6 C635.9,137.7 632.6,137.2 629.6,135.3 C626.6,133.4 624.1,130.3 622.1,126.3 C620.1,122.3 618.1,116.1 617.6,111.3 C617.1,106.5 619.4,100.2 619.1,97.7 C618.9,95.2 618.1,96.6 616.1,96.2 C614.1,95.8 609.4,96.4 607.0,95.4 C604.6,94.4 603.0,92.8 601.8,90.2 C600.5,87.6 599.5,82.6 599.5,79.6 C599.5,76.6 600.8,74.6 601.8,72.1 C602.8,69.6 604.1,66.6 605.5,64.6 C606.9,62.6 608.3,60.2 610.1,60.0Z" fill="none" stroke="#ececec" stroke-width="1.45" stroke-dasharray="3.3,2.3"/>
<rect x="661" y="138.4" width="33.60000000000002" height="35.599999999999994" fill="#fff"/>
<filter id="tx3" x="0" y="0" width="1" height="1" color-interpolation-filters="sRGB">
<feTurbulence type="fractalNoise" baseFrequency="0.14" numOctaves="2" seed="10" result="n1"/>
<feColorMatrix in="n1" type="matrix" values="0 0 0 0 0.973 0 0 0 0 0.753 0 0 0 0 0.314 3.0 0 0 0 -1.5" result="c1"/>
<feComposite in="c1" in2="SourceAlpha" operator="in" result="c1m"/>
<feTurbulence type="fractalNoise" baseFrequency="0.15" numOctaves="2" seed="11" result="n2"/>
<feColorMatrix in="n2" type="matrix" values="0 0 0 0 0.722 0 0 0 0 0.235 0 0 0 0 0.063 0 3.0 0 0 -1.6" result="c2"/>
<feComposite in="c2" in2="SourceAlpha" operator="in" result="c2m"/>
<feMerge><feMergeNode in="SourceGraphic"/><feMergeNode in="c1m"/><feMergeNode in="c2m"/></feMerge></filter>
<path d="M664.1,145.4 C664.6,144.4 665.2,143.0 666.1,143.1 C667.0,143.2 668.1,144.8 669.5,146.1 C670.9,147.4 673.0,150.5 674.2,150.8 C675.4,151.1 676.2,149.7 676.9,148.1 C677.6,146.5 677.4,142.7 678.2,141.4 C679.0,140.1 680.2,140.4 681.6,140.4 C683.0,140.4 685.0,140.7 686.3,141.4 C687.6,142.1 689.1,143.2 689.6,144.8 C690.1,146.4 689.3,149.5 689.0,150.8 C688.7,152.1 687.1,152.1 687.6,152.8 C688.1,153.5 691.1,154.0 691.7,154.9 C692.3,155.8 691.6,157.0 691.0,158.2 C690.4,159.4 688.9,160.8 688.3,162.3 C687.7,163.8 688.5,165.8 687.6,167.0 C686.7,168.2 684.8,168.9 682.9,169.7 C681.0,170.5 677.9,171.6 676.2,171.7 C674.5,171.8 673.8,171.3 672.8,170.3 C671.8,169.3 670.6,167.4 670.1,165.6 C669.6,163.8 669.5,161.0 669.5,159.6 C669.5,158.2 670.7,157.6 670.1,156.9 C669.5,156.2 667.2,156.3 666.1,155.5 C665.0,154.7 664.2,153.3 663.7,152.2 C663.2,151.1 663.0,149.9 663.1,148.8 C663.2,147.7 663.6,146.4 664.1,145.4Z" fill="url(#gOr2)" filter="url(#tx3)"/>
<text x="596.4" y="170.8" font-size="11.8" fill="#17a04a" text-anchor="start" font-weight="normal" >EGFP</text>
<rect x="357.9" y="186.3" width="119" height="124.4" fill="#231f20"/>
<clipPath id="cp4"><path d="M359.2,232.9 C360.2,230.7 362.9,228.7 365.7,226.4 C368.5,224.1 372.4,221.5 375.8,219.2 C379.2,216.9 382.2,214.3 385.8,212.7 C389.4,211.1 394.0,210.7 397.4,209.8 C400.8,209.0 403.4,209.2 406.0,207.6 C408.6,206.0 410.7,202.4 413.3,200.4 C415.9,198.4 418.5,196.6 421.9,195.4 C425.2,194.2 429.3,193.1 433.4,193.2 C437.5,193.3 442.3,195.0 446.4,196.1 C450.5,197.2 454.6,198.0 458.0,199.7 C461.4,201.4 464.2,203.9 466.6,206.2 C469.0,208.5 471.4,210.5 472.4,213.4 C473.4,216.3 473.1,220.6 472.4,223.5 C471.7,226.4 469.8,228.5 468.1,230.7 C466.4,232.9 462.6,234.6 462.3,236.5 C462.1,238.4 465.6,240.4 466.6,242.3 C467.6,244.2 469.1,246.1 468.1,248.0 C467.2,249.9 464.3,252.4 460.9,253.8 C457.5,255.2 452.0,255.5 447.9,256.7 C443.8,257.9 440.6,259.6 436.3,261.0 C432.0,262.4 427.2,264.2 421.9,265.3 C416.6,266.4 410.1,267.7 404.6,267.5 C399.1,267.3 393.3,265.9 388.7,263.9 C384.1,261.8 380.8,258.1 377.2,255.2 C373.6,252.3 370.0,249.2 367.1,246.6 C364.2,244.0 361.2,241.7 359.9,239.4 C358.6,237.1 358.2,235.1 359.2,232.9Z"/></clipPath>
<path d="M359.2,232.9 C360.2,230.7 362.9,228.7 365.7,226.4 C368.5,224.1 372.4,221.5 375.8,219.2 C379.2,216.9 382.2,214.3 385.8,212.7 C389.4,211.1 394.0,210.7 397.4,209.8 C400.8,209.0 403.4,209.2 406.0,207.6 C408.6,206.0 410.7,202.4 413.3,200.4 C415.9,198.4 418.5,196.6 421.9,195.4 C425.2,194.2 429.3,193.1 433.4,193.2 C437.5,193.3 442.3,195.0 446.4,196.1 C450.5,197.2 454.6,198.0 458.0,199.7 C461.4,201.4 464.2,203.9 466.6,206.2 C469.0,208.5 471.4,210.5 472.4,213.4 C473.4,216.3 473.1,220.6 472.4,223.5 C471.7,226.4 469.8,228.5 468.1,230.7 C466.4,232.9 462.6,234.6 462.3,236.5 C462.1,238.4 465.6,240.4 466.6,242.3 C467.6,244.2 469.1,246.1 468.1,248.0 C467.2,249.9 464.3,252.4 460.9,253.8 C457.5,255.2 452.0,255.5 447.9,256.7 C443.8,257.9 440.6,259.6 436.3,261.0 C432.0,262.4 427.2,264.2 421.9,265.3 C416.6,266.4 410.1,267.7 404.6,267.5 C399.1,267.3 393.3,265.9 388.7,263.9 C384.1,261.8 380.8,258.1 377.2,255.2 C373.6,252.3 370.0,249.2 367.1,246.6 C364.2,244.0 361.2,241.7 359.9,239.4 C358.6,237.1 358.2,235.1 359.2,232.9Z" fill="#131f11"/>
<g clip-path="url(#cp4)">
<ellipse cx="445" cy="210" rx="22" ry="14" fill="#1d4a1d" filter="url(#b10)"/>
<ellipse cx="405" cy="245" rx="30" ry="14" fill="#192c16" filter="url(#b12)"/>
<ellipse cx="455" cy="222" rx="16" ry="12" fill="#36b444" filter="url(#b8)"/>
<ellipse cx="462" cy="220" rx="8" ry="9" fill="#44c44e" filter="url(#b6)"/>
<ellipse cx="430.6" cy="222" rx="3" ry="2.5" fill="#0a0a06" filter="url(#b3)"/>
<ellipse cx="372" cy="245" rx="8" ry="5" fill="#1a2a16" filter="url(#b6)"/>
<path d="M359.2,232.9 C360.2,230.7 362.9,228.7 365.7,226.4 C368.5,224.1 372.4,221.5 375.8,219.2 C379.2,216.9 382.2,214.3 385.8,212.7 C389.4,211.1 394.0,210.7 397.4,209.8 C400.8,209.0 403.4,209.2 406.0,207.6 C408.6,206.0 410.7,202.4 413.3,200.4 C415.9,198.4 418.5,196.6 421.9,195.4 C425.2,194.2 429.3,193.1 433.4,193.2 C437.5,193.3 442.3,195.0 446.4,196.1 C450.5,197.2 454.6,198.0 458.0,199.7 C461.4,201.4 464.2,203.9 466.6,206.2 C469.0,208.5 471.4,210.5 472.4,213.4 C473.4,216.3 473.1,220.6 472.4,223.5 C471.7,226.4 469.8,228.5 468.1,230.7 C466.4,232.9 462.6,234.6 462.3,236.5 C462.1,238.4 465.6,240.4 466.6,242.3 C467.6,244.2 469.1,246.1 468.1,248.0 C467.2,249.9 464.3,252.4 460.9,253.8 C457.5,255.2 452.0,255.5 447.9,256.7 C443.8,257.9 440.6,259.6 436.3,261.0 C432.0,262.4 427.2,264.2 421.9,265.3 C416.6,266.4 410.1,267.7 404.6,267.5 C399.1,267.3 393.3,265.9 388.7,263.9 C384.1,261.8 380.8,258.1 377.2,255.2 C373.6,252.3 370.0,249.2 367.1,246.6 C364.2,244.0 361.2,241.7 359.9,239.4 C358.6,237.1 358.2,235.1 359.2,232.9Z" fill="#000" filter="url(#mottle)" opacity="0.35"/>
</g>
<path d="M359.2,232.9 C360.2,230.7 362.9,228.7 365.7,226.4 C368.5,224.1 372.4,221.5 375.8,219.2 C379.2,216.9 382.2,214.3 385.8,212.7 C389.4,211.1 394.0,210.7 397.4,209.8 C400.8,209.0 403.4,209.2 406.0,207.6 C408.6,206.0 410.7,202.4 413.3,200.4 C415.9,198.4 418.5,196.6 421.9,195.4 C425.2,194.2 429.3,193.1 433.4,193.2 C437.5,193.3 442.3,195.0 446.4,196.1 C450.5,197.2 454.6,198.0 458.0,199.7 C461.4,201.4 464.2,203.9 466.6,206.2 C469.0,208.5 471.4,210.5 472.4,213.4 C473.4,216.3 473.1,220.6 472.4,223.5 C471.7,226.4 469.8,228.5 468.1,230.7 C466.4,232.9 462.6,234.6 462.3,236.5 C462.1,238.4 465.6,240.4 466.6,242.3 C467.6,244.2 469.1,246.1 468.1,248.0 C467.2,249.9 464.3,252.4 460.9,253.8 C457.5,255.2 452.0,255.5 447.9,256.7 C443.8,257.9 440.6,259.6 436.3,261.0 C432.0,262.4 427.2,264.2 421.9,265.3 C416.6,266.4 410.1,267.7 404.6,267.5 C399.1,267.3 393.3,265.9 388.7,263.9 C384.1,261.8 380.8,258.1 377.2,255.2 C373.6,252.3 370.0,249.2 367.1,246.6 C364.2,244.0 361.2,241.7 359.9,239.4 C358.6,237.1 358.2,235.1 359.2,232.9Z" fill="none" stroke="#ececec" stroke-width="1.45" stroke-dasharray="3.3,2.3"/>
<rect x="434" y="276" width="41.80000000000001" height="33.80000000000001" fill="#fff"/>
<filter id="tx4" x="0" y="0" width="1" height="1" color-interpolation-filters="sRGB">
<feTurbulence type="fractalNoise" baseFrequency="0.14" numOctaves="2" seed="13" result="n1"/>
<feColorMatrix in="n1" type="matrix" values="0 0 0 0 1.000 0 0 0 0 0.965 0 0 0 0 0.784 3.0 0 0 0 -1.45" result="c1"/>
<feComposite in="c1" in2="SourceAlpha" operator="in" result="c1m"/>
<feTurbulence type="fractalNoise" baseFrequency="0.15" numOctaves="2" seed="14" result="n2"/>
<feColorMatrix in="n2" type="matrix" values="0 0 0 0 0.922 0 0 0 0 0.627 0 0 0 0 0.251 0 3.0 0 0 -1.7" result="c2"/>
<feComposite in="c2" in2="SourceAlpha" operator="in" result="c2m"/>
<feMerge><feMergeNode in="SourceGraphic"/><feMergeNode in="c1m"/><feMergeNode in="c2m"/></feMerge></filter>
<path d="M434.7,290.8 C435.1,289.9 435.5,289.2 436.7,288.2 C437.9,287.2 440.2,285.7 442.1,284.8 C444.0,283.9 446.4,283.4 448.2,282.8 C450.0,282.2 451.6,282.2 452.9,281.4 C454.2,280.6 454.8,278.9 456.2,278.1 C457.6,277.3 459.1,276.8 461.0,276.7 C462.9,276.6 465.8,276.8 467.7,277.4 C469.6,278.0 471.1,279.0 472.4,280.1 C473.7,281.2 474.9,282.7 475.3,284.1 C475.8,285.6 475.5,287.5 475.1,288.8 C474.7,290.1 473.3,291.2 473.1,292.2 C472.9,293.2 473.9,294.0 473.7,294.9 C473.5,295.8 472.9,296.8 471.7,297.6 C470.5,298.4 468.4,298.9 466.3,299.6 C464.2,300.3 461.2,301.0 458.9,301.6 C456.5,302.2 454.2,302.7 452.2,303.0 C450.2,303.3 448.6,303.8 446.8,303.3 C445.0,302.9 443.1,301.4 441.4,300.3 C439.7,299.2 437.9,298.0 436.7,296.9 C435.5,295.8 434.7,294.5 434.4,293.5 C434.1,292.5 434.3,291.7 434.7,290.8Z" fill="url(#gYe)" filter="url(#tx4)"/>
<text x="360.2" y="308.5" font-size="11.8" fill="#17a04a" text-anchor="start" font-weight="normal" >EGFP</text>
<rect x="479.3" y="186.3" width="110.8" height="124.4" fill="#231f20"/>
<rect x="479.3" y="186.3" width="106.2" height="94" fill="#060606"/>
<clipPath id="cp5"><path d="M483.6,193.7 C485.4,190.9 488.2,190.1 491.3,189.1 C494.4,188.1 498.2,187.2 502.1,187.5 C506.0,187.8 510.5,189.3 514.4,190.6 C518.2,191.9 522.1,194.7 525.2,195.2 C528.3,195.7 529.7,194.7 532.8,193.7 C535.9,192.7 539.8,190.1 543.6,189.1 C547.5,188.1 551.8,187.0 555.9,187.5 C560.0,188.0 564.6,190.1 568.2,192.2 C571.8,194.2 575.2,196.5 577.5,199.8 C579.8,203.1 581.6,208.3 582.1,212.2 C582.6,216.0 580.5,219.1 580.5,222.9 C580.5,226.7 581.8,231.6 582.1,235.2 C582.4,238.8 582.9,241.4 582.1,244.5 C581.3,247.6 579.3,250.4 577.5,253.7 C575.7,257.0 573.6,261.4 571.3,264.5 C569.0,267.6 567.7,269.8 563.6,272.2 C559.5,274.6 551.8,278.1 546.7,279.1 C541.6,280.1 537.7,279.0 532.8,278.3 C527.9,277.6 522.6,277.0 517.5,275.2 C512.4,273.4 506.7,269.8 502.1,267.5 C497.5,265.2 492.9,263.4 489.8,261.4 C486.7,259.3 484.9,258.8 483.6,255.2 C482.3,251.6 482.5,245.4 482.1,239.8 C481.7,234.2 481.6,227.0 481.3,221.4 C481.0,215.8 480.1,210.6 480.5,206.0 C480.9,201.4 481.8,196.5 483.6,193.7Z"/></clipPath>
<path d="M483.6,193.7 C485.4,190.9 488.2,190.1 491.3,189.1 C494.4,188.1 498.2,187.2 502.1,187.5 C506.0,187.8 510.5,189.3 514.4,190.6 C518.2,191.9 522.1,194.7 525.2,195.2 C528.3,195.7 529.7,194.7 532.8,193.7 C535.9,192.7 539.8,190.1 543.6,189.1 C547.5,188.1 551.8,187.0 555.9,187.5 C560.0,188.0 564.6,190.1 568.2,192.2 C571.8,194.2 575.2,196.5 577.5,199.8 C579.8,203.1 581.6,208.3 582.1,212.2 C582.6,216.0 580.5,219.1 580.5,222.9 C580.5,226.7 581.8,231.6 582.1,235.2 C582.4,238.8 582.9,241.4 582.1,244.5 C581.3,247.6 579.3,250.4 577.5,253.7 C575.7,257.0 573.6,261.4 571.3,264.5 C569.0,267.6 567.7,269.8 563.6,272.2 C559.5,274.6 551.8,278.1 546.7,279.1 C541.6,280.1 537.7,279.0 532.8,278.3 C527.9,277.6 522.6,277.0 517.5,275.2 C512.4,273.4 506.7,269.8 502.1,267.5 C497.5,265.2 492.9,263.4 489.8,261.4 C486.7,259.3 484.9,258.8 483.6,255.2 C482.3,251.6 482.5,245.4 482.1,239.8 C481.7,234.2 481.6,227.0 481.3,221.4 C481.0,215.8 480.1,210.6 480.5,206.0 C480.9,201.4 481.8,196.5 483.6,193.7Z" fill="#1e5a22"/>
<g clip-path="url(#cp5)">
<ellipse cx="568" cy="208" rx="10" ry="14" fill="#4cbc3c" filter="url(#b8)"/>
<ellipse cx="560" cy="200" rx="14" ry="10" fill="#2e8a30" filter="url(#b10)"/>
<ellipse cx="510" cy="232" rx="14" ry="18" fill="#2c7e30" filter="url(#b10)"/>
<ellipse cx="562" cy="240" rx="14" ry="14" fill="#2c8030" filter="url(#b10)"/>
<ellipse cx="540" cy="226" rx="8" ry="6" fill="#061206" filter="url(#b6)"/>
<ellipse cx="505" cy="207" rx="14" ry="5" fill="#0a1c0a" filter="url(#b6)"/>
<ellipse cx="530" cy="262" rx="18" ry="8" fill="#153a17" filter="url(#b10)"/>
<ellipse cx="495" cy="200" rx="10" ry="8" fill="#184a1a" filter="url(#b8)"/>
<ellipse cx="565" cy="240" rx="3" ry="3" fill="#5acc48" filter="url(#b4)"/>
<path d="M492,205 Q502,214 510,212 T520,207" fill="none" stroke="#061006" stroke-width="2.2" stroke-linecap="round" opacity="0.55" filter="url(#b3)"/>
<path d="M529.8,198 Q528,208 531,217" fill="none" stroke="#061006" stroke-width="1.8" stroke-linecap="round" opacity="0.55" filter="url(#b3)"/>
<path d="M533,222 Q540,232 549,228" fill="none" stroke="#061006" stroke-width="3.5" stroke-linecap="round" opacity="0.55" filter="url(#b3)"/>
<path d="M548,201 Q553,207 559,214" fill="none" stroke="#061006" stroke-width="1.6" stroke-linecap="round" opacity="0.55" filter="url(#b3)"/>
<path d="M522,250 Q525,257 530,263" fill="none" stroke="#061006" stroke-width="1.8" stroke-linecap="round" opacity="0.55" filter="url(#b3)"/>
<path d="M540,252 Q548,256 556,258" fill="none" stroke="#061006" stroke-width="1.8" stroke-linecap="round" opacity="0.55" filter="url(#b3)"/>
<path d="M494,231 L500,237" fill="none" stroke="#061006" stroke-width="1.5" stroke-linecap="round" opacity="0.55" filter="url(#b3)"/>
<path d="M512,222 Q518,232 516,244" fill="none" stroke="#061006" stroke-width="1.2" stroke-linecap="round" opacity="0.55" filter="url(#b3)"/>
<path d="M483.6,193.7 C485.4,190.9 488.2,190.1 491.3,189.1 C494.4,188.1 498.2,187.2 502.1,187.5 C506.0,187.8 510.5,189.3 514.4,190.6 C518.2,191.9 522.1,194.7 525.2,195.2 C528.3,195.7 529.7,194.7 532.8,193.7 C535.9,192.7 539.8,190.1 543.6,189.1 C547.5,188.1 551.8,187.0 555.9,187.5 C560.0,188.0 564.6,190.1 568.2,192.2 C571.8,194.2 575.2,196.5 577.5,199.8 C579.8,203.1 581.6,208.3 582.1,212.2 C582.6,216.0 580.5,219.1 580.5,222.9 C580.5,226.7 581.8,231.6 582.1,235.2 C582.4,238.8 582.9,241.4 582.1,244.5 C581.3,247.6 579.3,250.4 577.5,253.7 C575.7,257.0 573.6,261.4 571.3,264.5 C569.0,267.6 567.7,269.8 563.6,272.2 C559.5,274.6 551.8,278.1 546.7,279.1 C541.6,280.1 537.7,279.0 532.8,278.3 C527.9,277.6 522.6,277.0 517.5,275.2 C512.4,273.4 506.7,269.8 502.1,267.5 C497.5,265.2 492.9,263.4 489.8,261.4 C486.7,259.3 484.9,258.8 483.6,255.2 C482.3,251.6 482.5,245.4 482.1,239.8 C481.7,234.2 481.6,227.0 481.3,221.4 C481.0,215.8 480.1,210.6 480.5,206.0 C480.9,201.4 481.8,196.5 483.6,193.7Z" fill="#000" filter="url(#mottle)" opacity="0.35"/>
</g>
<path d="M483.6,193.7 C485.4,190.9 488.2,190.1 491.3,189.1 C494.4,188.1 498.2,187.2 502.1,187.5 C506.0,187.8 510.5,189.3 514.4,190.6 C518.2,191.9 522.1,194.7 525.2,195.2 C528.3,195.7 529.7,194.7 532.8,193.7 C535.9,192.7 539.8,190.1 543.6,189.1 C547.5,188.1 551.8,187.0 555.9,187.5 C560.0,188.0 564.6,190.1 568.2,192.2 C571.8,194.2 575.2,196.5 577.5,199.8 C579.8,203.1 581.6,208.3 582.1,212.2 C582.6,216.0 580.5,219.1 580.5,222.9 C580.5,226.7 581.8,231.6 582.1,235.2 C582.4,238.8 582.9,241.4 582.1,244.5 C581.3,247.6 579.3,250.4 577.5,253.7 C575.7,257.0 573.6,261.4 571.3,264.5 C569.0,267.6 567.7,269.8 563.6,272.2 C559.5,274.6 551.8,278.1 546.7,279.1 C541.6,280.1 537.7,279.0 532.8,278.3 C527.9,277.6 522.6,277.0 517.5,275.2 C512.4,273.4 506.7,269.8 502.1,267.5 C497.5,265.2 492.9,263.4 489.8,261.4 C486.7,259.3 484.9,258.8 483.6,255.2 C482.3,251.6 482.5,245.4 482.1,239.8 C481.7,234.2 481.6,227.0 481.3,221.4 C481.0,215.8 480.1,210.6 480.5,206.0 C480.9,201.4 481.8,196.5 483.6,193.7Z" fill="none" stroke="#ececec" stroke-width="1.45" stroke-dasharray="3.3,2.3"/>
<rect x="549.9" y="274.9" width="39.5" height="35.900000000000034" fill="#fff"/>
<filter id="tx5" x="0" y="0" width="1" height="1" color-interpolation-filters="sRGB">
<feTurbulence type="fractalNoise" baseFrequency="0.14" numOctaves="2" seed="16" result="n1"/>
<feColorMatrix in="n1" type="matrix" values="0 0 0 0 0.941 0 0 0 0 0.925 0 0 0 0 0.902 3.0 0 0 0 -1.45" result="c1"/>
<feComposite in="c1" in2="SourceAlpha" operator="in" result="c1m"/>
<feTurbulence type="fractalNoise" baseFrequency="0.15" numOctaves="2" seed="17" result="n2"/>
<feColorMatrix in="n2" type="matrix" values="0 0 0 0 0.557 0 0 0 0 0.141 0 0 0 0 0.204 0 3.0 0 0 -1.6" result="c2"/>
<feComposite in="c2" in2="SourceAlpha" operator="in" result="c2m"/>
<feMerge><feMergeNode in="SourceGraphic"/><feMergeNode in="c1m"/><feMergeNode in="c2m"/></feMerge></filter>
<path d="M551.6,282.7 C552.2,281.2 553.7,279.6 555.2,278.5 C556.7,277.4 559.2,276.4 560.8,276.3 C562.4,276.2 563.6,277.3 565.0,277.8 C566.4,278.3 568.0,279.3 569.3,279.2 C570.6,279.1 571.4,277.6 572.8,277.1 C574.2,276.6 575.9,275.8 577.7,276.0 C579.5,276.2 581.8,277.4 583.4,278.5 C585.0,279.6 586.7,281.3 587.6,282.7 C588.5,284.1 589.1,285.6 589.0,286.9 C588.9,288.2 587.1,289.1 586.9,290.5 C586.7,291.9 587.7,293.8 587.6,295.4 C587.5,297.0 587.0,298.6 586.2,300.3 C585.4,302.0 584.4,303.9 582.7,305.3 C581.1,306.7 578.5,308.1 576.3,308.8 C574.1,309.5 571.6,309.6 569.3,309.5 C566.9,309.4 564.4,308.9 562.2,308.1 C560.0,307.3 557.4,305.9 555.9,304.6 C554.4,303.3 553.8,302.1 553.1,300.3 C552.5,298.5 552.3,296.1 552.0,294.0 C551.7,291.9 551.4,289.5 551.3,287.6 C551.2,285.7 551.0,284.2 551.6,282.7Z" fill="url(#gPk2)" filter="url(#tx5)"/>
<text x="480.6" y="308.5" font-size="11.8" fill="#17a04a" text-anchor="start" font-weight="normal" >EGFP</text>
<rect x="595" y="186.3" width="100.3" height="124.6" fill="#231f20"/>
<rect x="595" y="186.3" width="100.3" height="94" fill="#060606"/>
<clipPath id="cp6"><path d="M604.0,208.6 C604.0,205.6 606.6,200.6 608.6,198.0 C610.6,195.4 613.1,193.7 616.1,192.8 C619.1,191.9 623.6,191.7 626.6,192.8 C629.6,193.9 631.4,197.5 634.2,199.6 C637.0,201.7 640.2,203.3 643.2,205.6 C646.2,207.8 649.4,210.1 652.2,213.1 C655.0,216.1 657.5,221.4 659.8,223.7 C662.1,226.0 663.5,226.3 665.8,226.7 C668.0,227.1 671.3,225.2 673.3,225.9 C675.3,226.7 676.8,229.1 677.8,231.2 C678.8,233.3 678.5,236.2 679.3,238.7 C680.0,241.2 682.3,243.9 682.3,246.2 C682.3,248.5 680.8,250.5 679.3,252.3 C677.8,254.1 675.5,255.1 673.3,256.8 C671.0,258.6 668.3,261.4 665.8,262.8 C663.3,264.2 661.3,265.0 658.3,265.1 C655.3,265.2 651.2,263.6 647.7,263.6 C644.2,263.6 640.2,265.2 637.2,265.1 C634.2,265.0 631.9,264.9 629.6,262.8 C627.3,260.7 625.1,256.1 623.6,252.3 C622.1,248.5 621.1,243.7 620.6,240.2 C620.1,236.7 620.1,233.7 620.6,231.2 C621.1,228.7 624.6,226.6 623.6,225.2 C622.6,223.8 617.1,224.4 614.6,222.9 C612.1,221.4 610.4,218.5 608.6,216.1 C606.8,213.7 604.0,211.6 604.0,208.6Z"/></clipPath>
<path d="M604.0,208.6 C604.0,205.6 606.6,200.6 608.6,198.0 C610.6,195.4 613.1,193.7 616.1,192.8 C619.1,191.9 623.6,191.7 626.6,192.8 C629.6,193.9 631.4,197.5 634.2,199.6 C637.0,201.7 640.2,203.3 643.2,205.6 C646.2,207.8 649.4,210.1 652.2,213.1 C655.0,216.1 657.5,221.4 659.8,223.7 C662.1,226.0 663.5,226.3 665.8,226.7 C668.0,227.1 671.3,225.2 673.3,225.9 C675.3,226.7 676.8,229.1 677.8,231.2 C678.8,233.3 678.5,236.2 679.3,238.7 C680.0,241.2 682.3,243.9 682.3,246.2 C682.3,248.5 680.8,250.5 679.3,252.3 C677.8,254.1 675.5,255.1 673.3,256.8 C671.0,258.6 668.3,261.4 665.8,262.8 C663.3,264.2 661.3,265.0 658.3,265.1 C655.3,265.2 651.2,263.6 647.7,263.6 C644.2,263.6 640.2,265.2 637.2,265.1 C634.2,265.0 631.9,264.9 629.6,262.8 C627.3,260.7 625.1,256.1 623.6,252.3 C622.1,248.5 621.1,243.7 620.6,240.2 C620.1,236.7 620.1,233.7 620.6,231.2 C621.1,228.7 624.6,226.6 623.6,225.2 C622.6,223.8 617.1,224.4 614.6,222.9 C612.1,221.4 610.4,218.5 608.6,216.1 C606.8,213.7 604.0,211.6 604.0,208.6Z" fill="#1e9636"/>
<g clip-path="url(#cp6)">
<ellipse cx="642" cy="232" rx="14" ry="16" fill="#27a842" filter="url(#b12)"/>
<ellipse cx="612" cy="212" rx="5" ry="6" fill="#14702a" filter="url(#b5)"/>
<ellipse cx="622" cy="220" rx="4" ry="3" fill="#0e5a20" filter="url(#b4)"/>
<ellipse cx="660" cy="250" rx="10" ry="8" fill="#24a03e" filter="url(#b8)"/>
<ellipse cx="630" cy="200" rx="6" ry="5" fill="#22a03c" filter="url(#b6)"/>
<path d="M604.0,208.6 C604.0,205.6 606.6,200.6 608.6,198.0 C610.6,195.4 613.1,193.7 616.1,192.8 C619.1,191.9 623.6,191.7 626.6,192.8 C629.6,193.9 631.4,197.5 634.2,199.6 C637.0,201.7 640.2,203.3 643.2,205.6 C646.2,207.8 649.4,210.1 652.2,213.1 C655.0,216.1 657.5,221.4 659.8,223.7 C662.1,226.0 663.5,226.3 665.8,226.7 C668.0,227.1 671.3,225.2 673.3,225.9 C675.3,226.7 676.8,229.1 677.8,231.2 C678.8,233.3 678.5,236.2 679.3,238.7 C680.0,241.2 682.3,243.9 682.3,246.2 C682.3,248.5 680.8,250.5 679.3,252.3 C677.8,254.1 675.5,255.1 673.3,256.8 C671.0,258.6 668.3,261.4 665.8,262.8 C663.3,264.2 661.3,265.0 658.3,265.1 C655.3,265.2 651.2,263.6 647.7,263.6 C644.2,263.6 640.2,265.2 637.2,265.1 C634.2,265.0 631.9,264.9 629.6,262.8 C627.3,260.7 625.1,256.1 623.6,252.3 C622.1,248.5 621.1,243.7 620.6,240.2 C620.1,236.7 620.1,233.7 620.6,231.2 C621.1,228.7 624.6,226.6 623.6,225.2 C622.6,223.8 617.1,224.4 614.6,222.9 C612.1,221.4 610.4,218.5 608.6,216.1 C606.8,213.7 604.0,211.6 604.0,208.6Z" fill="#000" filter="url(#mottle)" opacity="0.35"/>
</g>
<path d="M604.0,208.6 C604.0,205.6 606.6,200.6 608.6,198.0 C610.6,195.4 613.1,193.7 616.1,192.8 C619.1,191.9 623.6,191.7 626.6,192.8 C629.6,193.9 631.4,197.5 634.2,199.6 C637.0,201.7 640.2,203.3 643.2,205.6 C646.2,207.8 649.4,210.1 652.2,213.1 C655.0,216.1 657.5,221.4 659.8,223.7 C662.1,226.0 663.5,226.3 665.8,226.7 C668.0,227.1 671.3,225.2 673.3,225.9 C675.3,226.7 676.8,229.1 677.8,231.2 C678.8,233.3 678.5,236.2 679.3,238.7 C680.0,241.2 682.3,243.9 682.3,246.2 C682.3,248.5 680.8,250.5 679.3,252.3 C677.8,254.1 675.5,255.1 673.3,256.8 C671.0,258.6 668.3,261.4 665.8,262.8 C663.3,264.2 661.3,265.0 658.3,265.1 C655.3,265.2 651.2,263.6 647.7,263.6 C644.2,263.6 640.2,265.2 637.2,265.1 C634.2,265.0 631.9,264.9 629.6,262.8 C627.3,260.7 625.1,256.1 623.6,252.3 C622.1,248.5 621.1,243.7 620.6,240.2 C620.1,236.7 620.1,233.7 620.6,231.2 C621.1,228.7 624.6,226.6 623.6,225.2 C622.6,223.8 617.1,224.4 614.6,222.9 C612.1,221.4 610.4,218.5 608.6,216.1 C606.8,213.7 604.0,211.6 604.0,208.6Z" fill="none" stroke="#ececec" stroke-width="1.45" stroke-dasharray="3.3,2.3"/>
<rect x="660.7" y="276.7" width="33.799999999999955" height="34.80000000000001" fill="#fff"/>
<filter id="tx6" x="0" y="0" width="1" height="1" color-interpolation-filters="sRGB">
<feTurbulence type="fractalNoise" baseFrequency="0.14" numOctaves="2" seed="19" result="n1"/>
<feColorMatrix in="n1" type="matrix" values="0 0 0 0 0.973 0 0 0 0 0.753 0 0 0 0 0.314 3.0 0 0 0 -1.5" result="c1"/>
<feComposite in="c1" in2="SourceAlpha" operator="in" result="c1m"/>
<feTurbulence type="fractalNoise" baseFrequency="0.15" numOctaves="2" seed="20" result="n2"/>
<feColorMatrix in="n2" type="matrix" values="0 0 0 0 0.753 0 0 0 0 0.282 0 0 0 0 0.063 0 3.0 0 0 -1.6" result="c2"/>
<feComposite in="c2" in2="SourceAlpha" operator="in" result="c2m"/>
<feMerge><feMergeNode in="SourceGraphic"/><feMergeNode in="c1m"/><feMergeNode in="c2m"/></feMerge></filter>
<path d="M663.4,283.4 C663.7,282.2 665.0,280.7 666.1,280.1 C667.2,279.5 668.8,279.2 670.1,279.7 C671.5,280.1 672.9,281.7 674.2,282.8 C675.6,283.9 677.0,284.8 678.2,286.1 C679.4,287.4 680.4,289.8 681.6,290.8 C682.8,291.8 684.6,291.4 685.6,292.2 C686.6,293.0 687.2,294.5 687.6,295.6 C688.0,296.7 688.6,297.7 688.3,298.9 C688.0,300.1 686.7,301.9 685.6,303.0 C684.5,304.1 683.2,305.1 681.6,305.6 C680.0,306.2 677.9,306.5 676.2,306.3 C674.5,306.1 672.6,305.3 671.5,304.3 C670.4,303.3 670.1,301.8 669.5,300.3 C668.9,298.9 668.2,297.0 668.1,295.6 C668.0,294.2 669.1,293.1 668.8,292.2 C668.5,291.3 666.9,291.0 666.1,290.2 C665.3,289.4 664.6,288.6 664.1,287.5 C663.6,286.4 663.1,284.6 663.4,283.4Z" fill="url(#gOr2)" filter="url(#tx6)"/>
<text x="596.2" y="308.5" font-size="11.8" fill="#17a04a" text-anchor="start" font-weight="normal" >EGFP</text>
<text x="715" y="10.5" font-size="14" fill="#000" text-anchor="start" font-weight="bold" >d</text>
<text x="811.2" y="18.6" font-size="11.5" fill="#231f20" text-anchor="middle" font-weight="normal" >Immune</text>
<text x="811.2" y="32" font-size="11.5" fill="#231f20" text-anchor="middle" font-weight="normal" >competent</text>
<line x1="775.6" y1="45.5" x2="775.6" y2="151.8" stroke="#8a8a8a" stroke-width="1.1"/>
<line x1="772.2" y1="151.8" x2="846.6" y2="151.8" stroke="#9a9a9a" stroke-width="1.3"/>
<line x1="772.2" y1="151.8" x2="775.6" y2="151.8" stroke="#8a8a8a" stroke-width="1"/>
<text x="767" y="155.9" font-size="11.5" fill="#231f20" text-anchor="end" font-weight="normal" >0</text>
<line x1="772.2" y1="125.2" x2="775.6" y2="125.2" stroke="#8a8a8a" stroke-width="1"/>
<text x="767" y="129.32500000000002" font-size="11.5" fill="#231f20" text-anchor="end" font-weight="normal" >0.5</text>
<line x1="772.2" y1="98.7" x2="775.6" y2="98.7" stroke="#8a8a8a" stroke-width="1"/>
<text x="767" y="102.75" font-size="11.5" fill="#231f20" text-anchor="end" font-weight="normal" >1.0</text>
<line x1="772.2" y1="72.1" x2="775.6" y2="72.1" stroke="#8a8a8a" stroke-width="1"/>
<text x="767" y="76.175" font-size="11.5" fill="#231f20" text-anchor="end" font-weight="normal" >1.5</text>
<line x1="772.2" y1="45.5" x2="775.6" y2="45.5" stroke="#8a8a8a" stroke-width="1"/>
<text x="767" y="49.6" font-size="11.5" fill="#231f20" text-anchor="end" font-weight="normal" >2.0</text>
<line x1="796.2" y1="151.8" x2="796.2" y2="155.3" stroke="#9a9a9a" stroke-width="1"/>
<line x1="826.6" y1="151.8" x2="826.6" y2="155.3" stroke="#9a9a9a" stroke-width="1"/>
<rect x="786.1" y="131.6" width="20" height="20.2" fill="none" stroke="#4a4a4a" stroke-width="1.3"/>
<rect x="817.1" y="95" width="19.4" height="56.8" fill="none" stroke="#d0d0d0" stroke-width="1.1"/>
<circle cx="799.6" cy="112.1" r="2.1" fill="#3953a4"/>
<circle cx="793.1" cy="117.5" r="2.1" fill="#3953a4"/>
<circle cx="796.2" cy="126.1" r="2.1" fill="#3953a4"/>
<circle cx="789.9" cy="129.5" r="2.1" fill="#3953a4"/>
<circle cx="802.6" cy="131.9" r="2.1" fill="#3953a4"/>
<circle cx="796.2" cy="134.6" r="2.1" fill="#3953a4"/>
<circle cx="792.8" cy="140.8" r="2.1" fill="#3953a4"/>
<circle cx="799.2" cy="142.4" r="2.1" fill="#3953a4"/>
<circle cx="796.2" cy="150.6" r="2.1" fill="#3953a4"/>
<rect x="824.8" y="56.3" width="4" height="4" fill="#e8262b"/>
<rect x="821.4" y="65.8" width="4" height="4" fill="#e8262b"/>
<rect x="827.9" y="69.7" width="4" height="4" fill="#e8262b"/>
<rect x="824.8" y="89.9" width="4" height="4" fill="#e8262b"/>
<rect x="821.4" y="95.2" width="4" height="4" fill="#e8262b"/>
<rect x="827.8" y="97.1" width="4" height="4" fill="#e8262b"/>
<rect x="821.1" y="136.3" width="4" height="4" fill="#e8262b"/>
<rect x="827.8" y="133.2" width="4" height="4" fill="#e8262b"/>
<text x="811.7" y="47.6" font-size="9.8" fill="#231f20" text-anchor="middle" font-weight="normal" >0.0037</text>
<line x1="797" y1="51.8" x2="826.4" y2="51.8" stroke="#231f20" stroke-width="1.5"/>
<text x="796.7" y="169.3" font-size="11.5" fill="#33449a" text-anchor="middle" font-weight="normal" >ΔS</text>
<text x="826.7" y="169.3" font-size="11.5" fill="#e4262b" text-anchor="middle" font-weight="normal" >ΔL</text>
<text transform="translate(726,98.5) rotate(-90)" font-size="11.5" fill="#231f20" text-anchor="middle" >Post/pre in vivo</text>
<text transform="translate(738.5,98.5) rotate(-90)" font-size="11.5" fill="#231f20" text-anchor="middle" >EGFP copy number</text>
<text x="811.4" y="193.2" font-size="11.5" fill="#231f20" text-anchor="middle" font-weight="normal" >Nude</text>
<line x1="775.8" y1="207.3" x2="775.8" y2="313.5" stroke="#555" stroke-width="1.2"/>
<line x1="772.3" y1="313.5" x2="846.8" y2="313.5" stroke="#555" stroke-width="1.2"/>
<line x1="772.3" y1="313.5" x2="775.8" y2="313.5" stroke="#555" stroke-width="1"/>
<text x="767.5" y="317.6" font-size="11.5" fill="#231f20" text-anchor="end" font-weight="normal" >0</text>
<line x1="772.3" y1="292.3" x2="775.8" y2="292.3" stroke="#555" stroke-width="1"/>
<text x="767.5" y="296.36" font-size="11.5" fill="#231f20" text-anchor="end" font-weight="normal" >1</text>
<line x1="772.3" y1="271.0" x2="775.8" y2="271.0" stroke="#555" stroke-width="1"/>
<text x="767.5" y="275.12" font-size="11.5" fill="#231f20" text-anchor="end" font-weight="normal" >2</text>
<line x1="772.3" y1="249.8" x2="775.8" y2="249.8" stroke="#555" stroke-width="1"/>
<text x="767.5" y="253.88" font-size="11.5" fill="#231f20" text-anchor="end" font-weight="normal" >3</text>
<line x1="772.3" y1="228.5" x2="775.8" y2="228.5" stroke="#555" stroke-width="1"/>
<text x="767.5" y="232.64000000000001" font-size="11.5" fill="#231f20" text-anchor="end" font-weight="normal" >4</text>
<line x1="772.3" y1="207.3" x2="775.8" y2="207.3" stroke="#555" stroke-width="1"/>
<text x="767.5" y="211.4" font-size="11.5" fill="#231f20" text-anchor="end" font-weight="normal" >5</text>
<line x1="795.9" y1="313.5" x2="795.9" y2="317.5" stroke="#777" stroke-width="1"/>
<line x1="826.7" y1="313.5" x2="826.7" y2="317.5" stroke="#777" stroke-width="1"/>
<rect x="786.2" y="265.5" width="20.1" height="48.0" fill="none" stroke="#555" stroke-width="1.3"/>
<rect x="816.5" y="284.2" width="20.1" height="29.3" fill="none" stroke="#d6d6d6" stroke-width="1.1"/>
<circle cx="796" cy="218.6" r="2.1" fill="#3953a4"/>
<circle cx="796" cy="259" r="2.1" fill="#3953a4"/>
<circle cx="796" cy="265.9" r="2.1" fill="#3953a4"/>
<circle cx="792.7" cy="274.3" r="2.1" fill="#3953a4"/>
<circle cx="802.6" cy="276.4" r="2.1" fill="#3953a4"/>
<circle cx="799.1" cy="280.3" r="2.1" fill="#3953a4"/>
<circle cx="792.8" cy="285.5" r="2.1" fill="#3953a4"/>
<circle cx="826.5" cy="271.3" r="2.1" fill="#e8262b"/>
<circle cx="818.8" cy="279.4" r="2.1" fill="#e8262b"/>
<circle cx="823.9" cy="282.6" r="2.1" fill="#e8262b"/>
<circle cx="834.3" cy="281.4" r="2.1" fill="#e8262b"/>
<circle cx="829.2" cy="285.8" r="2.1" fill="#e8262b"/>
<circle cx="823.4" cy="294.4" r="2.1" fill="#e8262b"/>
<circle cx="829.6" cy="294.4" r="2.1" fill="#e8262b"/>
<text x="811" y="208.6" font-size="9.8" fill="#231f20" text-anchor="middle" font-weight="normal" >0.0649</text>
<line x1="795.2" y1="211.9" x2="824.6" y2="211.9" stroke="#231f20" stroke-width="1.5"/>
<text x="796.2" y="331.6" font-size="11.5" fill="#33449a" text-anchor="middle" font-weight="normal" >ΔS</text>
<text x="826.5" y="331.6" font-size="11.5" fill="#e4262b" text-anchor="middle" font-weight="normal" >ΔL</text>
<text transform="translate(734,260) rotate(-90)" font-size="11.5" fill="#231f20" text-anchor="middle" >Post/pre in vivo</text>
<text transform="translate(746.5,260) rotate(-90)" font-size="11.5" fill="#231f20" text-anchor="middle" >EGFP copy number</text>
<text x="318.8" y="357.2" font-size="14" fill="#000" text-anchor="start" font-weight="bold" >e</text>
<text transform="translate(382.5,384.3) rotate(-45)" font-size="11" fill="#29abe2">Hacd4</text>
<text transform="translate(434,383.5) rotate(-45)" font-size="11" fill="#e8212b">Cdkn2a</text>
<text transform="translate(458,383.5) rotate(-45)" font-size="11" fill="#f9a537">Cdkn2b</text>
<text transform="translate(501,383.5) rotate(-45)" font-size="11" fill="#a9abae">Dmrta1</text>
<rect x="377.8" y="389.4" width="8.4" height="16" fill="#29abe2"/>
<rect x="429.7" y="389.4" width="5.8" height="16" fill="#e8212b"/>
<rect x="453.7" y="389.4" width="2.5" height="16" fill="#f9a537"/>
<rect x="496.1" y="389.4" width="12" height="16" fill="#b3b3b3"/>
<line x1="372.2" y1="405.4" x2="522.2" y2="405.4" stroke="#8a8a8a" stroke-width="1"/>
<line x1="399" y1="412.2" x2="411.5" y2="399.4" stroke="#555" stroke-width="0.9"/>
<line x1="402.5" y1="412.2" x2="415.5" y2="399.4" stroke="#555" stroke-width="0.9"/>
<text x="357" y="409.2" font-size="11.5" fill="#231f20" text-anchor="start" font-weight="normal" >ΔI</text>
<text x="385.7" y="425.7" font-size="11.5" fill="#231f20" text-anchor="start" font-weight="normal" >0.9 Mb</text>
<text x="459.7" y="453" font-size="11.5" fill="#231f20" text-anchor="middle" font-weight="normal" >Immune competent</text>
<text transform="translate(329,534) rotate(-90)" font-size="11.5" fill="#231f20" text-anchor="middle" >ΔI</text>
<rect x="334" y="465.9" width="130.1" height="136.2" fill="#231f20"/>
<clipPath id="cpe"><path d="M357.6,478.0 C359.9,475.6 363.2,474.7 367.2,473.2 C371.2,471.7 376.9,470.0 381.7,469.2 C386.5,468.4 391.8,468.7 396.1,468.4 C400.4,468.1 403.8,467.9 407.3,467.6 C410.8,467.3 414.0,466.3 416.9,466.8 C419.8,467.3 421.7,468.7 424.9,470.8 C428.1,472.9 433.6,476.3 436.2,479.6 C438.8,482.9 439.1,487.1 440.2,490.8 C441.3,494.6 441.8,498.1 442.6,502.1 C443.4,506.1 445.0,510.4 445.0,514.9 C445.0,519.4 444.1,525.0 442.6,529.3 C441.1,533.6 439.4,537.0 436.2,540.5 C433.0,544.0 428.1,547.7 423.3,550.1 C418.5,552.5 412.4,554.0 407.3,555.0 C402.2,556.0 397.4,556.3 392.9,555.8 C388.4,555.2 383.9,554.2 380.1,551.7 C376.4,549.2 373.9,544.2 370.4,540.5 C366.9,536.8 362.0,533.6 359.2,529.3 C356.4,525.0 354.7,519.7 353.6,514.9 C352.5,510.1 352.8,505.1 352.8,500.5 C352.8,495.9 352.8,491.4 353.6,487.6 C354.4,483.9 355.3,480.4 357.6,478.0Z"/></clipPath>
<path d="M357.6,478.0 C359.9,475.6 363.2,474.7 367.2,473.2 C371.2,471.7 376.9,470.0 381.7,469.2 C386.5,468.4 391.8,468.7 396.1,468.4 C400.4,468.1 403.8,467.9 407.3,467.6 C410.8,467.3 414.0,466.3 416.9,466.8 C419.8,467.3 421.7,468.7 424.9,470.8 C428.1,472.9 433.6,476.3 436.2,479.6 C438.8,482.9 439.1,487.1 440.2,490.8 C441.3,494.6 441.8,498.1 442.6,502.1 C443.4,506.1 445.0,510.4 445.0,514.9 C445.0,519.4 444.1,525.0 442.6,529.3 C441.1,533.6 439.4,537.0 436.2,540.5 C433.0,544.0 428.1,547.7 423.3,550.1 C418.5,552.5 412.4,554.0 407.3,555.0 C402.2,556.0 397.4,556.3 392.9,555.8 C388.4,555.2 383.9,554.2 380.1,551.7 C376.4,549.2 373.9,544.2 370.4,540.5 C366.9,536.8 362.0,533.6 359.2,529.3 C356.4,525.0 354.7,519.7 353.6,514.9 C352.5,510.1 352.8,505.1 352.8,500.5 C352.8,495.9 352.8,491.4 353.6,487.6 C354.4,483.9 355.3,480.4 357.6,478.0Z" fill="#151c12"/>
<g clip-path="url(#cpe)">
<ellipse cx="400" cy="535" rx="30" ry="18" fill="#234a22" filter="url(#b12)"/>
<ellipse cx="420" cy="490" rx="18" ry="14" fill="#1e3e1e" filter="url(#b12)"/>
<ellipse cx="372" cy="520" rx="14" ry="16" fill="#1e3a1c" filter="url(#b12)"/>
<ellipse cx="430" cy="515" rx="10" ry="10" fill="#1a2a16" filter="url(#b10)"/>
<ellipse cx="375" cy="490" rx="14" ry="12" fill="#100e0a" filter="url(#b10)"/>
<ellipse cx="410" cy="520" rx="8" ry="4" fill="#0c0c08" filter="url(#b6)"/>
<path d="M357.6,478.0 C359.9,475.6 363.2,474.7 367.2,473.2 C371.2,471.7 376.9,470.0 381.7,469.2 C386.5,468.4 391.8,468.7 396.1,468.4 C400.4,468.1 403.8,467.9 407.3,467.6 C410.8,467.3 414.0,466.3 416.9,466.8 C419.8,467.3 421.7,468.7 424.9,470.8 C428.1,472.9 433.6,476.3 436.2,479.6 C438.8,482.9 439.1,487.1 440.2,490.8 C441.3,494.6 441.8,498.1 442.6,502.1 C443.4,506.1 445.0,510.4 445.0,514.9 C445.0,519.4 444.1,525.0 442.6,529.3 C441.1,533.6 439.4,537.0 436.2,540.5 C433.0,544.0 428.1,547.7 423.3,550.1 C418.5,552.5 412.4,554.0 407.3,555.0 C402.2,556.0 397.4,556.3 392.9,555.8 C388.4,555.2 383.9,554.2 380.1,551.7 C376.4,549.2 373.9,544.2 370.4,540.5 C366.9,536.8 362.0,533.6 359.2,529.3 C356.4,525.0 354.7,519.7 353.6,514.9 C352.5,510.1 352.8,505.1 352.8,500.5 C352.8,495.9 352.8,491.4 353.6,487.6 C354.4,483.9 355.3,480.4 357.6,478.0Z" fill="#000" filter="url(#mottle)" opacity="0.35"/>
</g>
<g>
<ellipse cx="382.5" cy="494.9" rx="2.2" ry="1.8" fill="#c4cc5a" filter="url(#b1)"/>
<ellipse cx="391.3" cy="529.3" rx="2.2" ry="1.4" fill="#b8e050" filter="url(#b1)"/>
<ellipse cx="393.7" cy="543" rx="1.6" ry="2.4" fill="#6cd04a" filter="url(#b1)"/>
<ellipse cx="413" cy="518.5" rx="3.5" ry="1.4" fill="#5cc044" filter="url(#b1)"/>
<ellipse cx="420" cy="521" rx="1.5" ry="1.5" fill="#5cc044" filter="url(#b1)"/>
<circle cx="370.4" cy="518.9" r="1" fill="#4cb040"/>
<circle cx="363.5" cy="524" r="0.8" fill="#4cb040"/>
<circle cx="421.5" cy="532" r="0.8" fill="#6ac04a"/>
</g>
<path d="M357.6,478.0 C359.9,475.6 363.2,474.7 367.2,473.2 C371.2,471.7 376.9,470.0 381.7,469.2 C386.5,468.4 391.8,468.7 396.1,468.4 C400.4,468.1 403.8,467.9 407.3,467.6 C410.8,467.3 414.0,466.3 416.9,466.8 C419.8,467.3 421.7,468.7 424.9,470.8 C428.1,472.9 433.6,476.3 436.2,479.6 C438.8,482.9 439.1,487.1 440.2,490.8 C441.3,494.6 441.8,498.1 442.6,502.1 C443.4,506.1 445.0,510.4 445.0,514.9 C445.0,519.4 444.1,525.0 442.6,529.3 C441.1,533.6 439.4,537.0 436.2,540.5 C433.0,544.0 428.1,547.7 423.3,550.1 C418.5,552.5 412.4,554.0 407.3,555.0 C402.2,556.0 397.4,556.3 392.9,555.8 C388.4,555.2 383.9,554.2 380.1,551.7 C376.4,549.2 373.9,544.2 370.4,540.5 C366.9,536.8 362.0,533.6 359.2,529.3 C356.4,525.0 354.7,519.7 353.6,514.9 C352.5,510.1 352.8,505.1 352.8,500.5 C352.8,495.9 352.8,491.4 353.6,487.6 C354.4,483.9 355.3,480.4 357.6,478.0Z" fill="none" stroke="#ececec" stroke-width="1.45" stroke-dasharray="3.3,2.3"/>
<rect x="423.5" y="561.5" width="39.30000000000001" height="39.299999999999955" fill="#fff"/>
<filter id="tx7" x="0" y="0" width="1" height="1" color-interpolation-filters="sRGB">
<feTurbulence type="fractalNoise" baseFrequency="0.12" numOctaves="2" seed="22" result="n1"/>
<feColorMatrix in="n1" type="matrix" values="0 0 0 0 1.000 0 0 0 0 0.941 0 0 0 0 0.816 3.0 0 0 0 -1.45" result="c1"/>
<feComposite in="c1" in2="SourceAlpha" operator="in" result="c1m"/>
<feTurbulence type="fractalNoise" baseFrequency="0.14" numOctaves="2" seed="23" result="n2"/>
<feColorMatrix in="n2" type="matrix" values="0 0 0 0 0.847 0 0 0 0 0.353 0 0 0 0 0.157 0 3.0 0 0 -1.6" result="c2"/>
<feComposite in="c2" in2="SourceAlpha" operator="in" result="c2m"/>
<feMerge><feMergeNode in="SourceGraphic"/><feMergeNode in="c1m"/><feMergeNode in="c2m"/></feMerge></filter>
<path d="M425.0,580.0 C425.2,576.5 425.7,571.7 427.0,569.0 C428.3,566.3 430.8,564.9 433.0,564.0 C435.2,563.1 437.5,563.8 440.0,563.5 C442.5,563.2 445.3,561.9 448.0,562.0 C450.7,562.1 453.8,562.5 456.0,564.0 C458.2,565.5 460.0,568.3 461.0,571.0 C462.0,573.7 461.9,577.0 462.0,580.0 C462.1,583.0 462.5,586.2 461.5,589.0 C460.5,591.8 458.9,595.3 456.0,597.0 C453.1,598.7 448.0,599.0 444.0,599.0 C440.0,599.0 435.0,598.5 432.0,597.0 C429.0,595.5 427.2,592.8 426.0,590.0 C424.8,587.2 424.8,583.5 425.0,580.0Z" fill="url(#gPe)" filter="url(#tx7)"/>
<text x="334.9" y="600" font-size="11.8" fill="#17a04a" text-anchor="start" font-weight="normal" >EGFP</text>
<line x1="527.3" y1="472.2" x2="527.3" y2="576.7" stroke="#8a8a8a" stroke-width="1.1"/>
<line x1="524.2" y1="576.7" x2="597" y2="576.7" stroke="#9a9a9a" stroke-width="1.2"/>
<line x1="524.2" y1="576.7" x2="527.3" y2="576.7" stroke="#9a9a9a" stroke-width="1"/>
<text x="518.8" y="580.8000000000001" font-size="11.5" fill="#231f20" text-anchor="end" font-weight="normal" >0</text>
<line x1="524.2" y1="555.8" x2="527.3" y2="555.8" stroke="#9a9a9a" stroke-width="1"/>
<text x="518.8" y="559.9000000000001" font-size="11.5" fill="#231f20" text-anchor="end" font-weight="normal" >1</text>
<line x1="524.2" y1="534.9" x2="527.3" y2="534.9" stroke="#9a9a9a" stroke-width="1"/>
<text x="518.8" y="539.0" font-size="11.5" fill="#231f20" text-anchor="end" font-weight="normal" >2</text>
<line x1="524.2" y1="514.0" x2="527.3" y2="514.0" stroke="#9a9a9a" stroke-width="1"/>
<text x="518.8" y="518.1" font-size="11.5" fill="#231f20" text-anchor="end" font-weight="normal" >3</text>
<line x1="524.2" y1="493.1" x2="527.3" y2="493.1" stroke="#9a9a9a" stroke-width="1"/>
<text x="518.8" y="497.20000000000005" font-size="11.5" fill="#231f20" text-anchor="end" font-weight="normal" >4</text>
<line x1="524.2" y1="472.2" x2="527.3" y2="472.2" stroke="#9a9a9a" stroke-width="1"/>
<text x="518.8" y="476.3" font-size="11.5" fill="#231f20" text-anchor="end" font-weight="normal" >5</text>
<line x1="562.3" y1="576.7" x2="562.3" y2="580.7" stroke="#808285" stroke-width="1"/>
<line x1="544.7" y1="538.7" x2="579.9" y2="538.7" stroke="#231f20" stroke-width="1.5"/>
<circle cx="562.3" cy="482.6" r="2" fill="#231f20"/>
<circle cx="562.3" cy="511.1" r="2" fill="#231f20"/>
<circle cx="562.3" cy="544.4" r="2" fill="#231f20"/>
<circle cx="559" cy="558.2" r="2" fill="#231f20"/>
<circle cx="565.5" cy="560.1" r="2" fill="#231f20"/>
<circle cx="562.3" cy="576.3" r="2" fill="#231f20"/>
<text x="559" y="596.7" font-size="11.5" fill="#231f20" text-anchor="middle" font-weight="normal" >ΔI</text>
<text transform="translate(486.5,520) rotate(-90)" font-size="11.5" fill="#231f20" text-anchor="middle" >Post/pre in vivo</text>
<text transform="translate(499,520) rotate(-90)" font-size="11.5" fill="#231f20" text-anchor="middle" >EGFP copy number</text>
<text x="620" y="356.6" font-size="14" fill="#000" text-anchor="start" font-weight="bold" >f</text>
<text x="759.5" y="368.2" font-size="11.5" fill="#231f20" text-anchor="middle" font-weight="normal" >Survival (immune competent)</text>
<line x1="665.7" y1="378.3" x2="665.7" y2="502.7" stroke="#808285" stroke-width="1"/>
<line x1="665.7" y1="502.7" x2="853.3" y2="502.7" stroke="#808285" stroke-width="1"/>
<line x1="662.2" y1="502.7" x2="665.7" y2="502.7" stroke="#9a9a9a" stroke-width="1"/>
<text x="657.7" y="506.8" font-size="11.5" fill="#231f20" text-anchor="end" font-weight="normal" >0</text>
<line x1="662.2" y1="474.3" x2="665.7" y2="474.3" stroke="#9a9a9a" stroke-width="1"/>
<text x="657.7" y="478.375" font-size="11.5" fill="#231f20" text-anchor="end" font-weight="normal" >25</text>
<line x1="662.2" y1="445.9" x2="665.7" y2="445.9" stroke="#9a9a9a" stroke-width="1"/>
<text x="657.7" y="449.95000000000005" font-size="11.5" fill="#231f20" text-anchor="end" font-weight="normal" >50</text>
<line x1="662.2" y1="417.4" x2="665.7" y2="417.4" stroke="#9a9a9a" stroke-width="1"/>
<text x="657.7" y="421.525" font-size="11.5" fill="#231f20" text-anchor="end" font-weight="normal" >75</text>
<line x1="662.2" y1="389.0" x2="665.7" y2="389.0" stroke="#9a9a9a" stroke-width="1"/>
<text x="657.7" y="393.1" font-size="11.5" fill="#231f20" text-anchor="end" font-weight="normal" >100</text>
<line x1="665.7" y1="502.7" x2="665.7" y2="506.7" stroke="#808285" stroke-width="1"/>
<text x="665.7" y="519.8" font-size="11.5" fill="#231f20" text-anchor="middle" font-weight="normal" >0</text>
<line x1="724.4" y1="502.7" x2="724.4" y2="506.7" stroke="#808285" stroke-width="1"/>
<text x="724.3666666666667" y="519.8" font-size="11.5" fill="#231f20" text-anchor="middle" font-weight="normal" >100</text>
<line x1="783.0" y1="502.7" x2="783.0" y2="506.7" stroke="#808285" stroke-width="1"/>
<text x="783.0333333333334" y="519.8" font-size="11.5" fill="#231f20" text-anchor="middle" font-weight="normal" >200</text>
<line x1="841.7" y1="502.7" x2="841.7" y2="506.7" stroke="#808285" stroke-width="1"/>
<text x="841.7" y="519.8" font-size="11.5" fill="#231f20" text-anchor="middle" font-weight="normal" >300</text>
<text x="754" y="537.6" font-size="11.5" fill="#231f20" text-anchor="middle" font-weight="normal" >Time (days)</text>
<text transform="translate(630.5,440) rotate(-90)" font-size="11.5" fill="#231f20" text-anchor="middle" >Percent survival</text>
<line x1="665.7" y1="445.9" x2="853" y2="445.9" stroke="#444" stroke-width="1.1" stroke-dasharray="1.2,4"/>
<path d="M665.7,389.0 H695.0 V395.0 H711.7 V401.7 H714.3 V407.7 H725.0 V415.0 H732.3 V421.0 H735.0 V433.3 H761.7 V440.0 H841.7" fill="none" stroke="#3c3c3c" stroke-width="1.1"/>
<path d="M665.7,389.0 H702.3 V415.0 H705.0 V421.7 H707.3 V430.0 H714.3 V437.7 H718.3 V446.0 H740.0 V454.3 H744.0 V461.7 H752.3 V470.7 H841.7" fill="none" stroke="#e2504a" stroke-width="1.1"/>
<path d="M665.7,389.0 H691.7 V396.7 H696.7 V410.3 H703.3 V416.7 H708.3 V424.3 H725.0 V439.0 H743.3 V446.0 H841.7" fill="none" stroke="#5470b8" stroke-width="1.1"/>
<line x1="786" y1="438" x2="786" y2="442" stroke="#3c3c3c" stroke-width="1"/>
<line x1="786" y1="443" x2="786" y2="448" stroke="#5470b8" stroke-width="1"/>
<line x1="786" y1="467.5" x2="786" y2="472" stroke="#e2504a" stroke-width="1"/>
<line x1="841.7" y1="438" x2="841.7" y2="442" stroke="#3c3c3c" stroke-width="1"/>
<line x1="841.7" y1="443" x2="841.7" y2="448" stroke="#5470b8" stroke-width="1"/>
<line x1="841.7" y1="467.5" x2="841.7" y2="472" stroke="#e2504a" stroke-width="1"/>
<line x1="618.3" y1="560" x2="630" y2="560" stroke="#5470b8" stroke-width="1"/>
<text x="636" y="564.1" font-size="11.5" fill="#231f20"><tspan fill="#33449a">ΔS</tspan> (<tspan font-style="italic">n</tspan> = 16), median survival 217 days</text>
<line x1="618.3" y1="577.7" x2="630" y2="577.7" stroke="#3c3c3c" stroke-width="1"/>
<text x="636" y="581.8000000000001" font-size="11.5" fill="#231f20"><tspan fill="#231f20">ΔI</tspan> (<tspan font-style="italic">n</tspan> = 18), median survival &gt; 300 days</text>
<line x1="618.3" y1="594.3" x2="630" y2="594.3" stroke="#e2504a" stroke-width="1"/>
<text x="636" y="598.4" font-size="11.5" fill="#231f20"><tspan fill="#e4262b">ΔL</tspan> (<tspan font-style="italic">n</tspan> = 14), median survival 109 days</text>
<line x1="842.7" y1="555" x2="842.7" y2="575" stroke="#231f20" stroke-width="1.2"/>
<line x1="845" y1="576.7" x2="845" y2="596.7" stroke="#231f20" stroke-width="1.2"/>
<line x1="875" y1="555" x2="875" y2="597.3" stroke="#231f20" stroke-width="1.2"/>
<text x="846.7" y="569.8" font-size="11.5" fill="#231f20" text-anchor="start" font-weight="normal" >0.55</text>
<text x="848.3" y="591.4" font-size="11.5" fill="#231f20" text-anchor="start" font-weight="normal" >0.09</text>
<text x="877.7" y="579.1" font-size="11.5" fill="#231f20" text-anchor="start" font-weight="normal" >0.86</text>
<path d="M176.5,28.8 C181,30 186,32.5 186.4,35.8 C186.8,39 183.5,39.6 179,39.4 C171,39 163,38 156.4,37.3" fill="none" stroke="#d39c96" stroke-width="1.5" stroke-linecap="round"/>
<path d="M131.2,20.8 C131.4,20.1 132.1,19.4 133.0,18.7 C133.9,18.0 135.2,17.2 136.5,16.5 C137.8,15.8 139.6,14.9 140.8,14.4 C142.0,13.9 142.1,13.3 143.5,13.6 C144.9,13.8 147.2,15.6 149.3,15.9 C151.5,16.2 153.8,15.4 156.4,15.6 C159.0,15.8 162.4,16.1 165.0,16.8 C167.6,17.6 170.2,18.7 172.1,20.1 C174.0,21.5 175.8,23.6 176.6,25.0 C177.4,26.4 177.4,27.6 176.9,28.6 C176.4,29.6 175.0,30.3 173.5,30.9 C172.0,31.4 170.1,31.6 167.8,31.9 C165.6,32.2 162.7,32.5 160.0,32.5 C157.3,32.5 153.9,32.0 151.5,31.6 C149.1,31.2 147.6,30.9 145.8,30.0 C144.0,29.1 142.6,27.5 140.8,26.5 C139.0,25.5 136.6,24.6 135.1,24.0 C133.6,23.4 132.6,23.1 131.9,22.6 C131.2,22.1 131.0,21.5 131.2,20.8Z" fill="#4a4545"/>
<path d="M142.3,15 C142.5,12.6 145,11.8 146.2,13.2 L145.5,15.5 Z" fill="#3a3636"/>
<ellipse cx="146.2" cy="18.2" rx="2.1" ry="3.1" transform="rotate(12 146.2 18.2)" fill="#d9a4a0"/>
<circle cx="138.1" cy="19.3" r="0.75" fill="#111"/>
<path d="M140.5,29 C140,31 139.5,32.5 138.8,33.6 L143.5,33.9 M144.5,30.6 L145,34 L147.5,34" fill="none" stroke="#d39c96" stroke-width="1.6" stroke-linejoin="round"/>
<path d="M164,32 C165.5,34 168,34.5 172.5,34.2 L172,32" fill="#d39c96"/>
<path d="M131.3,19.2 L129,16.5" stroke="#ccc" stroke-width="0.5"/>
<path d="M175.3,65 C185,65.6 196,66.4 206.5,67.3" fill="none" stroke="#e8aca4" stroke-width="1.4" stroke-linecap="round"/>
<path d="M137.2,50.4 C137.5,49.7 138.5,48.7 139.8,48.2 C141.1,47.7 143.4,47.4 145.0,47.4 C146.6,47.4 147.6,47.9 149.3,48.2 C151.0,48.6 153.2,49.4 155.4,49.5 C157.6,49.6 160.1,48.8 162.3,49.1 C164.5,49.4 166.5,50.2 168.4,51.3 C170.3,52.4 172.4,54.0 173.6,55.6 C174.8,57.2 175.4,59.2 175.8,60.8 C176.2,62.4 176.3,63.8 175.8,65.1 C175.3,66.4 174.2,67.8 172.7,68.6 C171.2,69.4 168.7,70.1 166.7,69.9 C164.7,69.8 162.5,68.4 160.6,67.7 C158.7,67.0 156.8,66.9 155.4,66.0 C154.0,65.1 152.9,63.8 151.9,62.5 C150.9,61.2 150.3,59.4 149.3,58.2 C148.3,57.0 147.2,55.9 145.9,55.2 C144.6,54.5 142.8,54.3 141.5,53.9 C140.2,53.5 138.8,53.2 138.1,52.6 C137.4,52.0 136.9,51.1 137.2,50.4Z" fill="#ecb3aa"/>
<path d="M165,52 C170,56 172,62 170,68 C173,66 176,62 175,58 C173.5,54.5 169,52 165,52 Z" fill="#e4a49b" opacity="0.6"/>
<ellipse cx="152.4" cy="46.5" rx="2.9" ry="3.8" transform="rotate(18 152.4 46.5)" fill="#e9aaa2"/>
<circle cx="143.3" cy="48.6" r="0.7" fill="#3a2a2a"/>
<path d="M160,51 C163,56 164,61 163,66 M156,52 C158.5,57 159,61 158,65 M166,53 C168,58 168.5,62 167.5,67" fill="none" stroke="#dc9d94" stroke-width="0.4"/>
<path d="M149.5,62 L147,67.5 L151.5,68.2 M153,64.5 L152.5,68.5 L155.5,68.8" fill="none" stroke="#e3a49a" stroke-width="1.5" stroke-linejoin="round"/>
<path d="M184.5,98.4 C188.5,99.6 192.5,102 194.4,105.5 C195.8,109 193.5,110.6 190,110.6 C182,110.6 173,109.6 163,107.8" fill="none" stroke="#e0a6a0" stroke-width="1.5" stroke-linecap="round"/>
<path d="M136.9,90.1 C137.2,89.3 138.4,87.9 139.6,87.1 C140.8,86.3 142.6,85.8 144.1,85.2 C145.6,84.6 147.2,83.4 148.6,83.3 C150.0,83.2 151.0,84.0 152.4,84.4 C153.8,84.8 154.6,85.8 156.9,85.9 C159.2,86.0 163.1,85.1 166.0,85.2 C168.9,85.3 171.9,85.5 174.3,86.3 C176.7,87.1 178.6,88.6 180.3,90.1 C182.0,91.6 183.7,93.9 184.4,95.4 C185.1,96.9 185.0,98.1 184.6,99.1 C184.2,100.1 183.5,100.9 181.8,101.4 C180.1,101.9 177.2,102.1 174.3,102.2 C171.4,102.3 167.4,102.2 164.5,102.2 C161.6,102.2 159.1,102.6 156.9,102.2 C154.8,101.8 153.2,100.9 151.6,99.9 C150.0,98.9 148.7,97.1 147.1,96.1 C145.5,95.1 143.3,94.6 141.8,93.9 C140.3,93.2 138.8,92.6 138.0,92.0 C137.2,91.4 136.6,90.9 136.9,90.1Z" fill="#eceae8"/>
<path d="M158,101.8 C166,102.6 176,102.4 182,101 C185,98.5 184.8,94 182.5,91 C181,96.5 172,99.5 158,101.8 Z" fill="#d9d5d1"/>
<path d="M147,85 C147.5,82.5 149.5,81.8 150.8,83.2 L150,85.5 Z" fill="#dedad7"/>
<ellipse cx="153.1" cy="87.8" rx="2.4" ry="3.2" transform="rotate(15 153.1 87.8)" fill="#e8aca6"/>
<circle cx="144.1" cy="89" r="0.85" fill="#c0303e"/>
<path d="M148,99.5 C147,101.5 146,103 144.5,104.3 L150,104.6 M151.5,100.5 L152,104.6 L154.6,104.6" fill="none" stroke="#e0a6a0" stroke-width="1.6" stroke-linejoin="round"/>
<path d="M170,101.5 C171.5,104 174.5,104.8 180.5,104.6 L180,101.5" fill="#e0a6a0"/>
<path d="M137,89.5 L134.5,87.5" stroke="#ddd" stroke-width="0.5"/>
</svg></body></html>
